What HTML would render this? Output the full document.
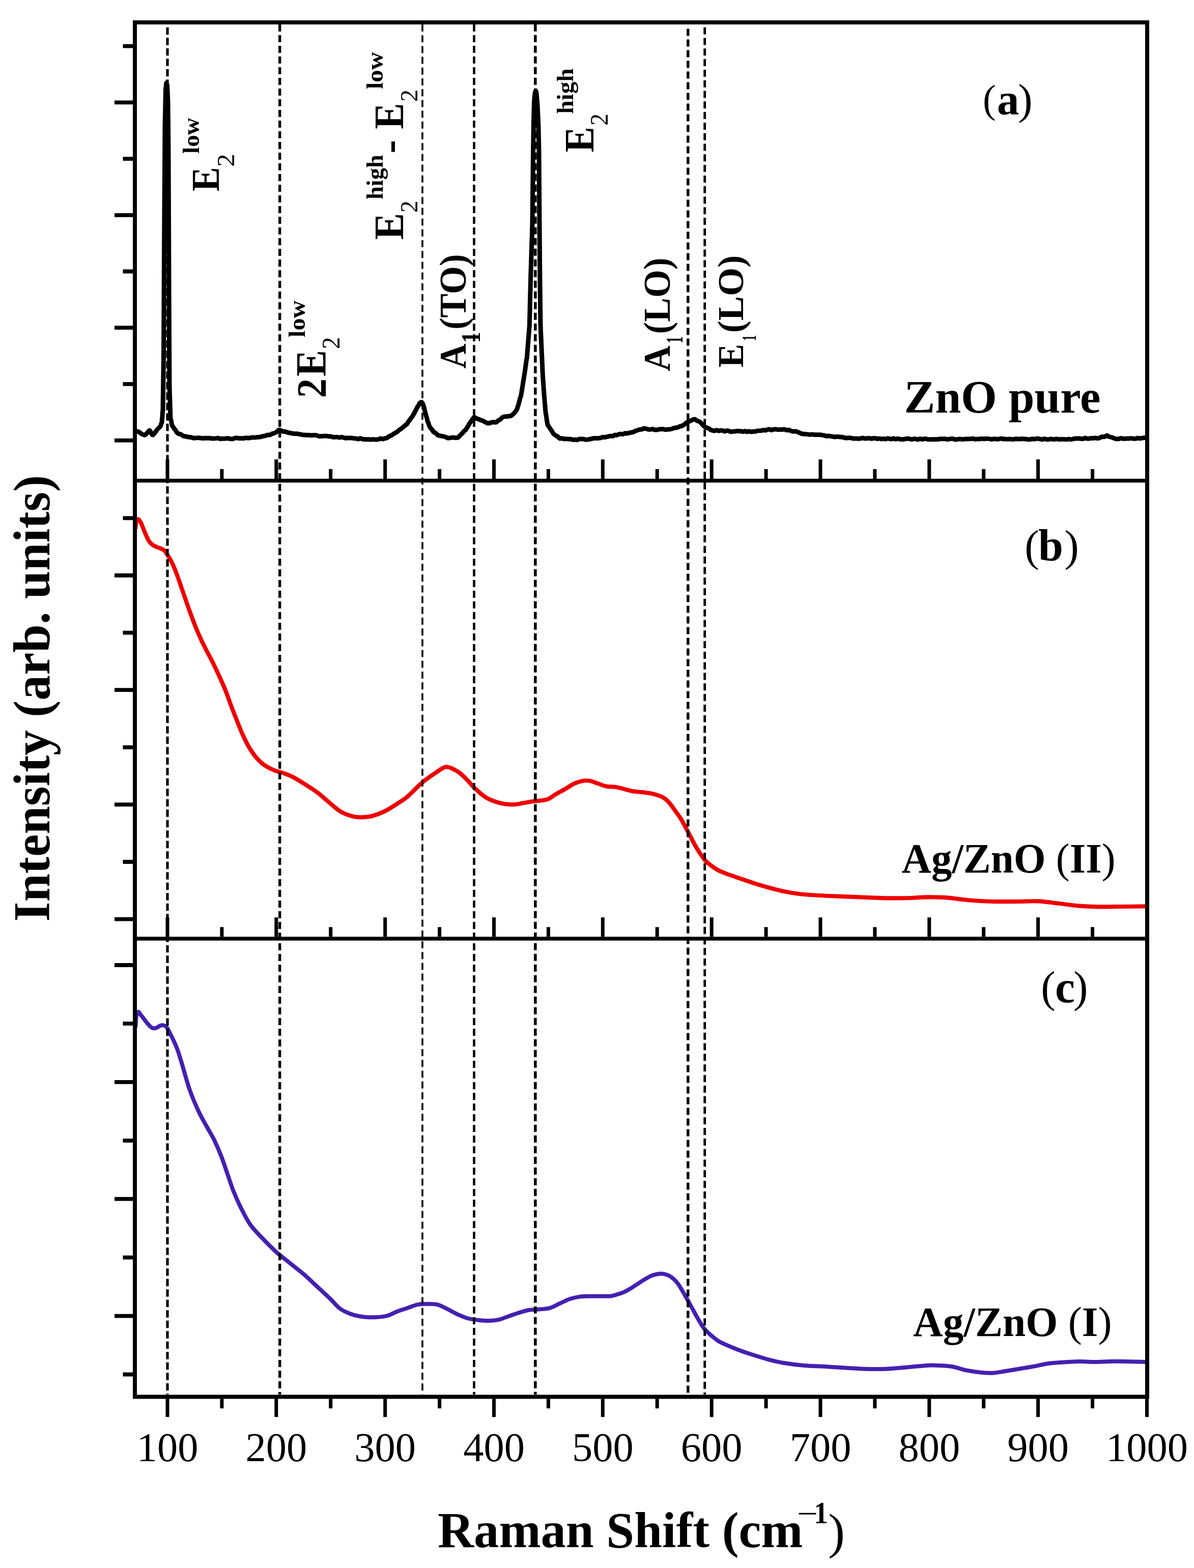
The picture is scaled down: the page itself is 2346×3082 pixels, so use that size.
<!DOCTYPE html>
<html><head><meta charset="utf-8"><title>Raman spectra of ZnO and Ag/ZnO</title>
<style>html,body{margin:0;padding:0;background:#fff;overflow:hidden;} svg{display:block;}</style></head>
<body>
<svg width="2346" height="3082" viewBox="0 0 2346 3082">
<rect width="2346" height="3082" fill="#fff"/>
<defs><clipPath id="pa"><rect x="265" y="44" width="1989" height="900"/></clipPath>
<clipPath id="pb"><rect x="265" y="944" width="1989" height="901"/></clipPath>
<clipPath id="pc"><rect x="265" y="1845" width="1989" height="900"/></clipPath></defs>
<g font-family="'Liberation Serif', 'Times New Roman', serif" fill="#000">
<text transform="translate(430.2,376.2) rotate(-90) scale(0.909,1)" font-size="79.0" font-weight="bold">E</text>
<text transform="translate(459.6,327.7) rotate(-90) scale(1.039,1)" font-size="49.2" font-weight="normal">2</text>
<text transform="translate(391.3,301.9) rotate(-90) scale(1.009,1)" font-size="46.5" font-weight="bold">low</text>
<text transform="translate(639.5,782.3) rotate(-90) scale(0.938,1)" font-size="81.7" font-weight="bold">2</text>
<text transform="translate(640.0,739.8) rotate(-90) scale(0.925,1)" font-size="84.0" font-weight="bold">E</text>
<text transform="translate(667.0,686.1) rotate(-90) scale(0.952,1)" font-size="49.8" font-weight="normal">2</text>
<text transform="translate(599.0,662.9) rotate(-90) scale(1.013,1)" font-size="47.5" font-weight="bold">low</text>
<text transform="translate(791.8,471.3) rotate(-90) scale(0.964,1)" font-size="81.8" font-weight="bold">E</text>
<text transform="translate(819.6,418.1) rotate(-90) scale(0.977,1)" font-size="48.5" font-weight="normal">2</text>
<text transform="translate(752.0,391.9) rotate(-90) scale(1.005,1)" font-size="46.1" font-weight="bold">high</text>
<text transform="translate(792.0,301.5) rotate(-90) scale(0.967,1)" font-size="82.0" font-weight="bold">-</text>
<text transform="translate(792.0,253.8) rotate(-90) scale(0.941,1)" font-size="81.8" font-weight="bold">E</text>
<text transform="translate(820.0,200.0) rotate(-90) scale(0.983,1)" font-size="49.0" font-weight="normal">2</text>
<text transform="translate(752.0,175.3) rotate(-90) scale(1.056,1)" font-size="46.1" font-weight="bold">low</text>
<text transform="translate(914.8,724.5) rotate(-90) scale(0.926,1)" font-size="73.2" font-weight="bold">A</text>
<text transform="translate(942.7,673.9) rotate(-90) scale(0.813,1)" font-size="53.8" font-weight="bold">1</text>
<text transform="translate(914.8,648.1) rotate(-90) scale(0.971,1)" font-size="73.2" font-weight="bold">(TO)</text>
<text transform="translate(1166.0,299.5) rotate(-90) scale(0.923,1)" font-size="81.8" font-weight="bold">E</text>
<text transform="translate(1194.0,246.7) rotate(-90) scale(0.952,1)" font-size="49.8" font-weight="normal">2</text>
<text transform="translate(1125.5,223.8) rotate(-90) scale(1.001,1)" font-size="47.3" font-weight="bold">high</text>
<text transform="translate(1315.8,729.7) rotate(-90) scale(0.947,1)" font-size="74.0" font-weight="bold">A</text>
<text transform="translate(1340.9,674.8) rotate(-90) scale(0.586,1)" font-size="45.4" font-weight="bold">1</text>
<text transform="translate(1316.0,656.4) rotate(-90) scale(0.961,1)" font-size="74.0" font-weight="bold">(LO)</text>
<text transform="translate(1459.8,722.6) rotate(-90) scale(0.970,1)" font-size="72.0" font-weight="bold">E</text>
<text transform="translate(1485.0,669.7) rotate(-90) scale(0.530,1)" font-size="41.0" font-weight="bold">1</text>
<text transform="translate(1460.0,654.2) rotate(-90) scale(1.004,1)" font-size="72.0" font-weight="bold">(LO)</text>
<text x="1931.1" y="220.5" font-size="77.4" font-weight="normal">(</text>
<text x="1959.1" y="224.6" font-size="86.8" font-weight="bold">a</text>
<text x="2000.3" y="224.3" font-size="85.3" font-weight="normal">)</text>
<text x="2013.2" y="1101.7" font-size="85.7" font-weight="normal">(</text>
<text x="2039.9" y="1102.0" font-size="88.0" font-weight="bold">b</text>
<text x="2091.2" y="1101.7" font-size="85.7" font-weight="normal">)</text>
<text x="2045.3" y="1968.5" font-size="85.7" font-weight="normal">(</text>
<text x="2072.9" y="1969.5" font-size="88.0" font-weight="bold">c</text>
<text x="2109.0" y="1968.5" font-size="85.7" font-weight="normal">)</text>
<text transform="translate(1776.6,811.2) scale(1.002,1)" font-size="91.0" font-weight="bold">ZnO pure</text>
<text transform="translate(1771.6,1715.0) scale(0.986,1)" font-size="82.0" font-weight="bold">Ag/ZnO <tspan font-weight="normal">(</tspan>II<tspan font-weight="normal">)</tspan></text>
<text transform="translate(1794.0,2626.2) scale(0.991,1)" font-size="82.0" font-weight="bold">Ag/ZnO <tspan font-weight="normal">(</tspan>I<tspan font-weight="normal">)</tspan></text>
<text x="329.0" y="2871.5" font-size="80.5" text-anchor="middle">100</text>
<text x="542.8" y="2871.5" font-size="80.5" text-anchor="middle">200</text>
<text x="756.7" y="2871.5" font-size="80.5" text-anchor="middle">300</text>
<text x="970.5" y="2871.5" font-size="80.5" text-anchor="middle">400</text>
<text x="1184.3" y="2871.5" font-size="80.5" text-anchor="middle">500</text>
<text x="1398.2" y="2871.5" font-size="80.5" text-anchor="middle">600</text>
<text x="1612.0" y="2871.5" font-size="80.5" text-anchor="middle">700</text>
<text x="1825.8" y="2871.5" font-size="80.5" text-anchor="middle">800</text>
<text x="2039.6" y="2871.5" font-size="80.5" text-anchor="middle">900</text>
<text x="2253.5" y="2871.5" font-size="80.5" text-anchor="middle">1000</text>
<text transform="translate(859.9,3041.0) scale(0.996,1)" font-size="99.0" font-weight="bold">Raman Shift (cm</text>
<text transform="translate(1566.0,2994.5) scale(1.218,1)" font-size="60.0" font-weight="normal">−</text>
<text transform="translate(1599.2,2994.3) scale(0.914,1)" font-size="60.6" font-weight="bold">1</text>
<text x="1627.2" y="3042.5" font-size="98.4" font-weight="normal">)</text>
<text transform="translate(96.7,1811.4) rotate(-90) scale(0.987,1)" font-size="101.0" font-weight="bold">Intensity (arb. units)</text>
</g>
<g clip-path="url(#pa)"><path d="M262.0,848.0 C262.7,848.0 264.7,848.0 266.0,848.0 C267.3,848.0 268.8,847.8 270.0,848.0 C271.2,848.2 272.3,848.7 273.5,849.3 C274.7,850.0 275.8,851.2 277.0,852.0 C278.2,852.8 279.7,853.6 281.0,854.1 C282.3,854.6 283.5,855.7 285.0,855.0 C286.5,854.3 288.5,851.5 290.0,850.0 C291.5,848.5 292.8,845.8 294.0,846.0 C295.2,846.2 296.0,849.5 297.0,851.0 C298.0,852.5 298.7,855.2 300.0,855.0 C301.3,854.8 303.8,851.5 305.0,850.0 C306.2,848.5 306.7,847.2 307.5,846.1 C308.3,844.9 308.8,844.3 310.0,843.0 C311.2,841.7 313.9,839.5 315.0,838.0 C316.1,836.5 316.0,835.3 316.5,834.0 C317.0,832.7 317.7,831.4 318.0,830.0 C318.3,828.6 318.2,827.1 318.3,825.7 C318.4,824.4 318.6,823.2 318.7,821.9 C318.8,820.7 318.9,819.6 319.0,818.0 C319.1,816.5 319.2,814.2 319.3,812.6 C319.4,811.0 319.6,809.6 319.7,808.3 C319.8,807.1 319.9,806.2 320.0,805.0 C320.1,803.8 320.0,802.3 320.1,801.0 C320.1,799.6 320.1,798.3 320.1,796.9 C320.1,795.6 320.2,794.2 320.2,792.9 C320.2,791.5 320.2,790.2 320.2,788.8 C320.2,787.5 320.3,786.2 320.3,784.8 C320.3,783.5 320.3,782.1 320.3,780.8 C320.4,779.4 320.4,778.1 320.4,776.7 C320.4,775.4 320.4,774.0 320.5,772.7 C320.5,771.3 320.5,770.0 320.5,768.7 C320.5,767.3 320.6,766.0 320.6,764.6 C320.6,763.3 320.6,761.9 320.6,760.6 C320.7,759.2 320.7,757.9 320.7,756.5 C320.7,755.2 320.7,753.8 320.8,752.5 C320.8,751.2 320.8,749.8 320.8,748.5 C320.8,747.1 320.8,745.8 320.9,744.4 C320.9,743.1 320.9,741.7 320.9,740.4 C320.9,739.0 321.0,737.7 321.0,736.3 C321.0,735.0 321.0,733.7 321.0,732.3 C321.1,731.0 321.1,729.6 321.1,728.3 C321.1,726.9 321.1,725.6 321.2,724.2 C321.2,722.9 321.2,721.5 321.2,720.2 C321.2,718.8 321.2,717.5 321.3,716.2 C321.3,714.8 321.3,713.5 321.3,712.1 C321.3,710.8 321.4,709.4 321.4,708.1 C321.4,706.7 321.4,705.4 321.4,704.0 C321.5,702.7 321.5,701.3 321.5,700.0 C321.5,698.7 321.5,697.3 321.5,696.0 C321.5,694.7 321.5,693.3 321.5,692.0 C321.5,690.7 321.6,689.3 321.6,688.0 C321.6,686.7 321.6,685.3 321.6,684.0 C321.6,682.7 321.6,681.3 321.6,680.0 C321.6,678.7 321.6,677.3 321.6,676.0 C321.6,674.7 321.6,673.3 321.6,672.0 C321.6,670.7 321.7,669.3 321.7,668.0 C321.7,666.7 321.7,665.3 321.7,664.0 C321.7,662.7 321.7,661.3 321.7,660.0 C321.7,658.7 321.7,657.3 321.7,656.0 C321.7,654.7 321.7,653.3 321.7,652.0 C321.7,650.7 321.8,649.3 321.8,648.0 C321.8,646.7 321.8,645.3 321.8,644.0 C321.8,642.7 321.8,641.3 321.8,640.0 C321.8,638.7 321.8,637.3 321.8,636.0 C321.8,634.7 321.8,633.3 321.8,632.0 C321.8,630.7 321.9,629.3 321.9,628.0 C321.9,626.7 321.9,625.3 321.9,624.0 C321.9,622.7 321.9,621.3 321.9,620.0 C321.9,618.7 321.9,617.3 321.9,616.0 C321.9,614.7 321.9,613.3 321.9,612.0 C321.9,610.7 322.0,609.3 322.0,608.0 C322.0,606.7 322.0,605.3 322.0,604.0 C322.0,602.7 322.0,601.3 322.0,600.0 C322.0,598.7 322.0,597.3 322.0,596.0 C322.0,594.7 322.0,593.3 322.0,592.0 C322.0,590.7 322.1,589.3 322.1,588.0 C322.1,586.7 322.1,585.3 322.1,584.0 C322.1,582.7 322.1,581.3 322.1,580.0 C322.1,578.7 322.1,577.3 322.1,576.0 C322.1,574.7 322.1,573.3 322.1,572.0 C322.1,570.7 322.2,569.3 322.2,568.0 C322.2,566.7 322.2,565.3 322.2,564.0 C322.2,562.7 322.2,561.3 322.2,560.0 C322.2,558.7 322.2,557.3 322.2,556.0 C322.2,554.7 322.2,553.3 322.2,552.0 C322.2,550.7 322.3,549.3 322.3,548.0 C322.3,546.7 322.3,545.3 322.3,544.0 C322.3,542.7 322.3,541.3 322.3,540.0 C322.3,538.7 322.3,537.3 322.3,536.0 C322.3,534.7 322.3,533.3 322.3,532.0 C322.3,530.7 322.4,529.3 322.4,528.0 C322.4,526.7 322.4,525.3 322.4,524.0 C322.4,522.7 322.4,521.3 322.4,520.0 C322.4,518.7 322.4,517.3 322.4,516.0 C322.4,514.7 322.4,513.3 322.4,512.0 C322.4,510.7 322.5,509.3 322.5,508.0 C322.5,506.7 322.5,505.3 322.5,504.0 C322.5,502.7 322.5,501.3 322.5,500.0 C322.5,498.7 322.5,497.3 322.5,496.0 C322.5,494.6 322.5,493.3 322.5,491.9 C322.6,490.6 322.6,489.2 322.6,487.9 C322.6,486.6 322.6,485.2 322.6,483.9 C322.6,482.5 322.6,481.2 322.6,479.8 C322.6,478.5 322.6,477.2 322.6,475.8 C322.7,474.5 322.7,473.1 322.7,471.8 C322.7,470.4 322.7,469.1 322.7,467.7 C322.7,466.4 322.7,465.1 322.7,463.7 C322.7,462.4 322.7,461.0 322.7,459.7 C322.8,458.3 322.8,457.0 322.8,455.6 C322.8,454.3 322.8,453.0 322.8,451.6 C322.8,450.3 322.8,448.9 322.8,447.6 C322.8,446.2 322.8,444.9 322.8,443.5 C322.8,442.2 322.9,440.9 322.9,439.5 C322.9,438.2 322.9,436.8 322.9,435.5 C322.9,434.1 322.9,432.8 322.9,431.5 C322.9,430.1 322.9,428.8 322.9,427.4 C322.9,426.1 323.0,424.7 323.0,423.4 C323.0,422.0 323.0,420.7 323.0,419.4 C323.0,418.0 323.0,416.7 323.0,415.3 C323.0,414.0 323.0,412.6 323.0,411.3 C323.0,409.9 323.0,408.6 323.1,407.3 C323.1,405.9 323.1,404.6 323.1,403.2 C323.1,401.9 323.1,400.5 323.1,399.2 C323.1,397.8 323.1,396.5 323.1,395.2 C323.1,393.8 323.1,392.5 323.2,391.1 C323.2,389.8 323.2,388.4 323.2,387.1 C323.2,385.8 323.2,384.4 323.2,383.1 C323.2,381.7 323.2,380.4 323.2,379.0 C323.2,377.7 323.2,376.3 323.2,375.0 C323.3,373.7 323.3,372.3 323.3,371.0 C323.3,369.6 323.3,368.3 323.3,366.9 C323.3,365.6 323.3,364.2 323.3,362.9 C323.3,361.6 323.3,360.2 323.3,358.9 C323.4,357.5 323.4,356.2 323.4,354.8 C323.4,353.5 323.4,352.2 323.4,350.8 C323.4,349.5 323.4,348.1 323.4,346.8 C323.4,345.4 323.4,344.1 323.4,342.7 C323.5,341.4 323.5,340.1 323.5,338.7 C323.5,337.4 323.5,336.0 323.5,334.7 C323.5,333.3 323.5,332.0 323.5,330.6 C323.5,329.3 323.5,328.0 323.5,326.6 C323.5,325.3 323.6,323.9 323.6,322.6 C323.6,321.2 323.6,319.9 323.6,318.5 C323.6,317.2 323.6,315.9 323.6,314.5 C323.6,313.2 323.6,311.8 323.6,310.5 C323.6,309.1 323.7,307.8 323.7,306.5 C323.7,305.1 323.7,303.8 323.7,302.4 C323.7,301.1 323.7,299.7 323.7,298.4 C323.7,297.0 323.7,295.7 323.7,294.4 C323.7,293.0 323.8,291.7 323.8,290.3 C323.8,289.0 323.8,287.6 323.8,286.3 C323.8,284.9 323.8,283.6 323.8,282.3 C323.8,280.9 323.8,279.6 323.8,278.2 C323.8,276.9 323.8,275.5 323.9,274.2 C323.9,272.8 323.9,271.5 323.9,270.2 C323.9,268.8 323.9,267.5 323.9,266.1 C323.9,264.8 323.9,263.4 323.9,262.1 C323.9,260.8 323.9,259.4 324.0,258.1 C324.0,256.7 324.0,255.4 324.0,254.0 C324.0,252.7 324.0,251.4 324.0,250.0 C324.0,248.6 324.1,247.2 324.1,245.8 C324.1,244.4 324.1,243.1 324.2,241.7 C324.2,240.3 324.2,238.9 324.2,237.5 C324.3,236.1 324.3,234.7 324.3,233.3 C324.4,231.9 324.4,230.6 324.4,229.2 C324.4,227.8 324.5,226.4 324.5,225.0 C324.5,223.6 324.6,222.2 324.6,220.8 C324.6,219.4 324.6,218.1 324.7,216.7 C324.7,215.3 324.7,213.9 324.8,212.5 C324.8,211.1 324.8,209.7 324.8,208.3 C324.9,206.9 324.9,205.6 324.9,204.2 C324.9,202.8 325.0,201.4 325.0,200.0 C325.0,198.6 325.1,197.2 325.1,195.8 C325.1,194.4 325.1,193.1 325.2,191.7 C325.2,190.3 325.2,188.9 325.2,187.5 C325.3,186.1 325.3,184.7 325.3,183.3 C325.4,181.9 325.4,180.6 325.4,179.2 C325.4,177.8 325.4,176.3 325.5,175.0 C325.6,173.7 325.8,173.0 326.0,171.6 C326.2,170.3 326.3,168.3 326.5,166.9 C326.7,165.4 326.7,162.8 327.0,163.0 C327.3,163.2 328.2,166.4 328.5,168.0 C328.8,169.6 328.6,171.3 328.7,172.5 C328.8,173.7 328.8,173.9 328.9,175.1 C328.9,176.3 329.0,178.4 329.1,179.9 C329.1,181.5 329.2,183.1 329.2,184.4 C329.3,185.7 329.4,186.1 329.4,187.5 C329.5,188.9 329.6,191.3 329.6,192.8 C329.7,194.3 329.8,195.5 329.8,196.7 C329.9,197.9 330.0,198.8 330.0,200.0 C330.0,201.2 330.0,202.7 330.0,204.0 C330.1,205.3 330.1,206.7 330.1,208.0 C330.1,209.3 330.1,210.7 330.1,212.0 C330.1,213.3 330.1,214.7 330.2,216.0 C330.2,217.3 330.2,218.7 330.2,220.0 C330.2,221.3 330.2,222.7 330.2,224.0 C330.3,225.3 330.3,226.7 330.3,228.0 C330.3,229.3 330.3,230.7 330.3,232.0 C330.3,233.3 330.3,234.7 330.4,236.0 C330.4,237.3 330.4,238.7 330.4,240.0 C330.4,241.3 330.4,242.7 330.4,244.0 C330.5,245.3 330.5,246.7 330.5,248.0 C330.5,249.3 330.5,250.7 330.5,252.0 C330.5,253.3 330.5,254.7 330.6,256.0 C330.6,257.3 330.6,258.7 330.6,260.0 C330.6,261.3 330.6,262.7 330.6,264.0 C330.7,265.3 330.7,266.7 330.7,268.0 C330.7,269.3 330.7,270.7 330.7,272.0 C330.7,273.3 330.7,274.7 330.8,276.0 C330.8,277.3 330.8,278.7 330.8,280.0 C330.8,281.3 330.8,282.7 330.8,284.0 C330.9,285.3 330.9,286.7 330.9,288.0 C330.9,289.3 330.9,290.7 330.9,292.0 C330.9,293.3 330.9,294.7 331.0,296.0 C331.0,297.3 331.0,298.7 331.0,300.0 C331.0,301.3 331.0,302.7 331.0,304.0 C331.0,305.3 331.0,306.7 331.0,308.0 C331.0,309.3 331.0,310.7 331.0,312.0 C331.1,313.3 331.1,314.7 331.1,316.0 C331.1,317.3 331.1,318.7 331.1,320.0 C331.1,321.3 331.1,322.7 331.1,324.0 C331.1,325.3 331.1,326.7 331.1,328.0 C331.1,329.3 331.1,330.7 331.1,332.0 C331.1,333.3 331.1,334.7 331.1,336.0 C331.1,337.3 331.1,338.7 331.2,340.0 C331.2,341.3 331.2,342.7 331.2,344.0 C331.2,345.3 331.2,346.7 331.2,348.0 C331.2,349.3 331.2,350.7 331.2,352.0 C331.2,353.3 331.2,354.7 331.2,356.0 C331.2,357.3 331.2,358.7 331.2,360.0 C331.2,361.3 331.2,362.7 331.2,364.0 C331.3,365.3 331.3,366.7 331.3,368.0 C331.3,369.3 331.3,370.7 331.3,372.0 C331.3,373.3 331.3,374.7 331.3,376.0 C331.3,377.3 331.3,378.7 331.3,380.0 C331.3,381.3 331.3,382.7 331.3,384.0 C331.3,385.3 331.3,386.7 331.3,388.0 C331.3,389.3 331.3,390.7 331.4,392.0 C331.4,393.3 331.4,394.7 331.4,396.0 C331.4,397.3 331.4,398.7 331.4,400.0 C331.4,401.3 331.4,402.7 331.4,404.0 C331.4,405.3 331.4,406.7 331.4,408.0 C331.4,409.3 331.4,410.7 331.4,412.0 C331.4,413.3 331.4,414.7 331.4,416.0 C331.5,417.3 331.5,418.7 331.5,420.0 C331.5,421.3 331.5,422.7 331.5,424.0 C331.5,425.3 331.5,426.7 331.5,428.0 C331.5,429.3 331.5,430.7 331.5,432.0 C331.5,433.3 331.5,434.7 331.5,436.0 C331.5,437.3 331.5,438.7 331.5,440.0 C331.5,441.3 331.5,442.7 331.6,444.0 C331.6,445.3 331.6,446.7 331.6,448.0 C331.6,449.3 331.6,450.7 331.6,452.0 C331.6,453.3 331.6,454.7 331.6,456.0 C331.6,457.3 331.6,458.7 331.6,460.0 C331.6,461.3 331.6,462.7 331.6,464.0 C331.6,465.3 331.6,466.7 331.6,468.0 C331.7,469.3 331.7,470.7 331.7,472.0 C331.7,473.3 331.7,474.7 331.7,476.0 C331.7,477.3 331.7,478.7 331.7,480.0 C331.7,481.3 331.7,482.7 331.7,484.0 C331.7,485.3 331.7,486.7 331.7,488.0 C331.7,489.3 331.7,490.7 331.7,492.0 C331.7,493.3 331.7,494.7 331.8,496.0 C331.8,497.3 331.8,498.7 331.8,500.0 C331.8,501.3 331.8,502.7 331.8,504.0 C331.8,505.3 331.8,506.7 331.8,508.0 C331.8,509.3 331.8,510.7 331.8,512.0 C331.8,513.3 331.8,514.7 331.8,516.0 C331.8,517.3 331.8,518.7 331.8,520.0 C331.9,521.3 331.9,522.7 331.9,524.0 C331.9,525.3 331.9,526.7 331.9,528.0 C331.9,529.3 331.9,530.7 331.9,532.0 C331.9,533.3 331.9,534.7 331.9,536.0 C331.9,537.3 331.9,538.7 331.9,540.0 C331.9,541.3 331.9,542.7 331.9,544.0 C331.9,545.3 331.9,546.7 332.0,548.0 C332.0,549.3 332.0,550.7 332.0,552.0 C332.0,553.3 332.0,554.7 332.0,556.0 C332.0,557.3 332.0,558.7 332.0,560.0 C332.0,561.3 332.0,562.7 332.0,564.0 C332.0,565.3 332.0,566.7 332.0,568.0 C332.0,569.3 332.1,570.7 332.1,572.0 C332.1,573.3 332.1,574.7 332.1,576.0 C332.1,577.3 332.1,578.7 332.1,580.0 C332.1,581.3 332.1,582.7 332.1,584.0 C332.1,585.3 332.1,586.7 332.1,588.0 C332.1,589.3 332.2,590.7 332.2,592.0 C332.2,593.3 332.2,594.7 332.2,596.0 C332.2,597.3 332.2,598.7 332.2,600.0 C332.2,601.3 332.2,602.7 332.2,604.0 C332.2,605.3 332.2,606.7 332.2,608.0 C332.2,609.3 332.3,610.7 332.3,612.0 C332.3,613.3 332.3,614.7 332.3,616.0 C332.3,617.3 332.3,618.7 332.3,620.0 C332.3,621.3 332.3,622.7 332.3,624.0 C332.3,625.3 332.3,626.7 332.3,628.0 C332.3,629.3 332.4,630.7 332.4,632.0 C332.4,633.3 332.4,634.7 332.4,636.0 C332.4,637.3 332.4,638.7 332.4,640.0 C332.4,641.3 332.4,642.7 332.4,644.0 C332.4,645.3 332.4,646.7 332.4,648.0 C332.4,649.3 332.5,650.7 332.5,652.0 C332.5,653.3 332.5,654.7 332.5,656.0 C332.5,657.3 332.5,658.7 332.5,660.0 C332.5,661.3 332.5,662.7 332.5,664.0 C332.5,665.3 332.5,666.7 332.5,668.0 C332.5,669.3 332.6,670.7 332.6,672.0 C332.6,673.3 332.6,674.7 332.6,676.0 C332.6,677.3 332.6,678.7 332.6,680.0 C332.6,681.3 332.6,682.7 332.6,684.0 C332.6,685.3 332.6,686.7 332.6,688.0 C332.6,689.3 332.7,690.7 332.7,692.0 C332.7,693.3 332.7,694.7 332.7,696.0 C332.7,697.3 332.7,698.7 332.7,700.0 C332.7,701.3 332.7,702.7 332.7,704.0 C332.7,705.3 332.7,706.7 332.7,708.0 C332.7,709.3 332.8,710.7 332.8,712.0 C332.8,713.3 332.8,714.7 332.8,716.0 C332.8,717.3 332.8,718.7 332.8,720.0 C332.8,721.3 332.8,722.7 332.8,724.0 C332.8,725.3 332.8,726.7 332.8,728.0 C332.8,729.3 332.9,730.7 332.9,732.0 C332.9,733.3 332.9,734.7 332.9,736.0 C332.9,737.3 332.9,738.7 332.9,740.0 C332.9,741.3 332.9,742.7 332.9,744.0 C332.9,745.3 332.9,746.7 332.9,748.0 C332.9,749.3 333.0,750.7 333.0,752.0 C333.0,753.3 333.0,754.7 333.0,756.0 C333.0,757.3 333.0,758.6 333.0,760.0 C333.0,761.4 333.1,762.8 333.1,764.1 C333.2,765.5 333.2,766.9 333.3,768.3 C333.3,769.6 333.4,771.0 333.4,772.4 C333.4,773.8 333.5,775.2 333.5,776.5 C333.6,777.9 333.6,779.3 333.7,780.7 C333.7,782.0 333.8,783.4 333.8,784.8 C333.8,786.2 333.9,787.6 333.9,788.9 C334.0,790.3 334.0,791.7 334.1,793.1 C334.1,794.4 334.2,795.8 334.2,797.2 C334.2,798.6 334.3,800.0 334.3,801.3 C334.4,802.7 334.4,804.1 334.5,805.5 C334.5,806.8 334.6,808.2 334.6,809.6 C334.6,811.0 334.7,812.4 334.7,813.7 C334.8,815.1 334.8,816.5 334.9,817.9 C334.9,819.2 334.8,820.7 335.0,822.0 C335.2,823.3 335.7,824.4 336.0,825.8 C336.3,827.2 336.7,828.8 337.0,830.5 C337.3,832.2 337.2,834.1 338.0,836.0 C338.8,837.9 340.9,840.4 342.0,842.0 C343.1,843.6 343.8,844.2 344.7,845.4 C345.6,846.7 346.4,848.4 347.3,849.5 C348.2,850.6 348.6,851.2 350.0,852.0 C351.4,852.8 354.3,853.2 356.0,854.0 C357.7,854.8 358.5,856.4 360.0,857.0 C361.5,857.6 363.3,857.5 365.0,857.8 C366.7,858.1 368.3,858.7 370.0,859.0 C371.7,859.3 373.3,859.2 375.0,859.5 C376.7,859.8 378.5,860.8 380.0,861.0 C381.5,861.2 382.7,861.1 384.0,861.0 C385.3,860.9 386.7,860.4 388.0,860.4 C389.3,860.3 390.7,860.6 392.0,860.8 C393.3,861.0 394.7,861.2 396.0,861.3 C397.3,861.4 398.7,861.5 400.0,861.5 C401.3,861.5 402.7,861.2 404.0,861.1 C405.3,861.1 406.7,861.2 408.0,861.2 C409.3,861.2 410.7,861.2 412.0,861.3 C413.3,861.4 414.7,861.7 416.0,861.8 C417.3,861.9 418.6,862.0 420.0,862.0 C421.4,862.0 422.9,861.8 424.3,861.6 C425.7,861.5 427.1,861.0 428.6,861.1 C430.0,861.3 431.4,862.4 432.9,862.6 C434.3,862.8 435.7,862.2 437.1,862.1 C438.6,862.0 440.0,862.4 441.4,862.3 C442.9,862.1 444.3,861.5 445.7,861.4 C447.1,861.4 448.6,861.8 450.0,862.0 C451.4,862.2 452.8,862.7 454.2,862.7 C455.6,862.8 456.9,862.6 458.3,862.3 C459.7,862.0 461.1,861.0 462.5,860.8 C463.9,860.6 465.3,860.9 466.7,861.0 C468.1,861.2 469.4,861.5 470.8,861.6 C472.2,861.6 473.6,861.4 475.0,861.4 C476.4,861.4 477.8,861.8 479.2,861.6 C480.6,861.5 481.9,860.6 483.3,860.5 C484.7,860.4 486.1,861.1 487.5,861.1 C488.9,861.1 490.3,860.9 491.7,860.6 C493.1,860.4 494.4,859.9 495.8,859.8 C497.2,859.7 498.6,860.1 500.0,860.0 C501.4,859.9 502.9,859.6 504.3,859.4 C505.7,859.3 507.1,859.4 508.6,859.3 C510.0,859.1 511.4,858.8 512.9,858.5 C514.3,858.1 515.7,857.5 517.1,857.2 C518.6,856.8 520.0,857.0 521.4,856.6 C522.9,856.2 524.3,855.1 525.7,854.9 C527.1,854.6 528.5,855.4 530.0,855.0 C531.5,854.6 533.3,853.2 535.0,852.5 C536.7,851.9 538.5,851.7 540.0,851.0 C541.5,850.3 542.7,849.5 544.0,848.5 C545.3,847.5 546.7,845.4 548.0,845.0 C549.3,844.6 550.7,845.8 552.0,846.3 C553.3,846.8 554.6,847.7 556.0,848.0 C557.4,848.3 559.1,848.1 560.7,848.4 C562.2,848.8 563.8,849.7 565.3,850.1 C566.9,850.5 568.5,850.7 570.0,851.0 C571.5,851.3 572.9,851.7 574.3,851.9 C575.7,852.2 577.1,852.4 578.6,852.5 C580.0,852.5 581.4,852.4 582.9,852.5 C584.3,852.6 585.7,852.9 587.1,853.2 C588.6,853.4 590.0,853.6 591.4,853.9 C592.9,854.2 594.3,854.7 595.7,854.9 C597.1,855.1 598.6,854.9 600.0,855.0 C601.4,855.1 602.8,855.2 604.2,855.3 C605.6,855.3 606.9,855.2 608.3,855.3 C609.7,855.4 611.1,855.8 612.5,855.7 C613.9,855.7 615.3,855.2 616.7,855.2 C618.1,855.1 619.4,855.1 620.8,855.4 C622.2,855.7 623.6,856.5 625.0,856.9 C626.4,857.2 627.8,857.6 629.2,857.6 C630.6,857.7 631.9,857.3 633.3,857.2 C634.7,857.1 636.1,857.1 637.5,857.1 C638.9,857.0 640.3,856.8 641.7,856.9 C643.1,857.0 644.4,857.6 645.8,857.8 C647.2,857.9 648.6,857.8 650.0,858.0 C651.4,858.2 652.8,859.0 654.2,859.2 C655.6,859.4 656.9,859.2 658.3,859.2 C659.7,859.1 661.1,858.9 662.5,859.1 C663.9,859.2 665.3,860.0 666.7,860.0 C668.1,860.0 669.4,859.2 670.8,859.2 C672.2,859.2 673.6,859.7 675.0,860.0 C676.4,860.4 677.8,861.0 679.2,861.1 C680.6,861.3 681.9,860.8 683.3,860.8 C684.7,860.8 686.1,860.9 687.5,860.9 C688.9,860.9 690.3,860.8 691.7,860.9 C693.1,861.1 694.4,861.6 695.8,861.8 C697.2,861.9 698.6,861.8 700.0,862.0 C701.4,862.2 702.7,863.1 704.0,863.0 C705.3,862.9 706.7,861.5 708.0,861.5 C709.3,861.5 710.7,862.8 712.0,863.1 C713.3,863.4 714.7,863.3 716.0,863.4 C717.3,863.5 718.7,863.7 720.0,863.7 C721.3,863.7 722.7,863.6 724.0,863.6 C725.3,863.7 726.7,864.0 728.0,864.0 C729.3,864.0 730.7,863.6 732.0,863.6 C733.3,863.6 734.7,863.8 736.0,863.9 C737.3,864.0 738.7,864.1 740.0,864.0 C741.3,863.9 742.7,863.6 744.0,863.3 C745.3,862.9 746.7,862.1 748.0,862.0 C749.3,861.9 750.7,862.9 752.0,862.9 C753.3,862.8 754.7,862.0 756.0,861.7 C757.3,861.4 758.7,861.6 760.0,861.0 C761.3,860.4 762.7,858.9 764.0,858.1 C765.3,857.3 766.7,856.9 768.0,856.2 C769.3,855.5 770.7,854.6 772.0,853.8 C773.3,852.9 774.7,851.9 776.0,851.1 C777.3,850.3 778.8,849.8 780.0,849.0 C781.2,848.2 782.2,846.9 783.3,846.1 C784.4,845.2 785.6,844.5 786.7,843.7 C787.8,842.9 788.9,842.1 790.0,841.2 C791.1,840.4 792.2,839.5 793.3,838.5 C794.4,837.6 795.6,836.5 796.7,835.6 C797.8,834.7 799.0,834.2 800.0,833.0 C801.0,831.8 801.7,829.9 802.5,828.7 C803.3,827.4 804.2,826.6 805.0,825.5 C805.8,824.4 806.7,823.0 807.5,821.9 C808.3,820.8 809.2,820.1 810.0,819.0 C810.8,817.9 811.3,816.5 812.0,815.4 C812.7,814.2 813.3,813.3 814.0,812.0 C814.7,810.8 815.3,809.4 816.0,808.1 C816.7,806.9 817.3,805.7 818.0,804.3 C818.7,803.0 819.2,801.3 820.0,800.0 C820.8,798.7 821.7,797.9 822.5,796.6 C823.3,795.2 823.9,792.9 825.0,792.0 C826.1,791.1 827.8,790.2 829.0,791.0 C830.2,791.8 831.3,795.2 832.0,797.0 C832.7,798.8 832.9,799.8 833.3,801.6 C833.8,803.3 834.2,805.9 834.7,807.6 C835.1,809.4 835.6,810.6 836.0,812.0 C836.4,813.4 836.7,815.1 837.0,816.3 C837.3,817.5 837.7,818.1 838.0,819.2 C838.3,820.4 838.7,821.7 839.0,823.1 C839.3,824.6 839.6,826.7 840.0,828.0 C840.4,829.3 841.1,829.7 841.7,831.1 C842.2,832.5 842.8,835.0 843.3,836.5 C843.9,837.9 844.1,838.7 845.0,840.0 C845.9,841.3 847.3,842.5 848.5,844.0 C849.7,845.5 850.8,847.8 852.0,849.0 C853.2,850.2 854.7,850.3 856.0,851.3 C857.3,852.3 858.7,854.1 860.0,855.0 C861.3,855.9 862.7,856.1 864.0,856.4 C865.3,856.8 866.7,856.9 868.0,857.1 C869.3,857.4 870.7,857.5 872.0,857.8 C873.3,858.2 874.7,858.7 876.0,859.2 C877.3,859.7 878.7,860.7 880.0,861.0 C881.3,861.3 882.7,861.0 884.0,860.8 C885.3,860.7 886.7,860.1 888.0,860.0 C889.3,859.9 890.7,859.9 892.0,860.0 C893.3,860.1 894.7,860.6 896.0,860.6 C897.3,860.6 898.8,860.6 900.0,860.0 C901.2,859.4 902.0,858.0 903.0,856.9 C904.0,855.9 905.0,854.7 906.0,853.7 C907.0,852.7 908.0,852.0 909.0,851.0 C910.0,849.9 911.0,848.1 912.0,847.1 C913.0,846.2 914.1,846.1 915.0,845.0 C915.9,843.9 916.7,842.2 917.5,840.8 C918.3,839.4 919.2,838.3 920.0,836.9 C920.8,835.5 921.7,833.7 922.5,832.4 C923.3,831.1 924.0,830.4 925.0,829.0 C926.0,827.6 927.3,825.3 928.5,823.8 C929.7,822.3 930.7,820.2 932.0,820.0 C933.3,819.8 934.9,822.0 936.3,822.7 C937.8,823.4 939.2,823.5 940.7,824.0 C942.1,824.6 943.7,825.5 945.0,826.0 C946.3,826.5 947.5,826.4 948.8,827.0 C950.0,827.5 951.2,828.5 952.5,829.2 C953.8,829.9 955.0,830.6 956.2,831.1 C957.5,831.5 958.5,832.1 960.0,832.0 C961.5,831.9 963.3,830.8 965.0,830.5 C966.7,830.1 968.3,829.9 970.0,829.8 C971.7,829.7 973.5,830.5 975.0,830.0 C976.5,829.5 977.5,827.5 978.8,826.6 C980.0,825.8 981.2,825.8 982.5,824.9 C983.8,824.0 985.0,822.1 986.2,821.1 C987.5,820.2 988.5,819.4 990.0,819.0 C991.5,818.6 993.3,818.9 995.0,818.7 C996.7,818.5 998.3,818.3 1000.0,818.0 C1001.7,817.7 1003.6,817.7 1005.0,817.0 C1006.4,816.3 1007.3,814.7 1008.5,813.6 C1009.7,812.4 1010.8,811.6 1012.0,810.0 C1013.2,808.4 1015.1,805.8 1016.0,804.0 C1016.9,802.2 1016.8,800.7 1017.1,799.5 C1017.5,798.3 1017.9,798.0 1018.3,796.9 C1018.7,795.7 1019.0,794.0 1019.4,792.5 C1019.8,791.1 1020.2,789.5 1020.6,788.0 C1021.0,786.5 1021.3,784.8 1021.7,783.5 C1022.1,782.2 1022.5,781.5 1022.9,780.3 C1023.2,779.0 1023.7,777.4 1024.0,776.0 C1024.3,774.6 1024.4,773.3 1024.6,772.0 C1024.8,770.7 1025.1,769.3 1025.3,768.0 C1025.5,766.7 1025.7,765.3 1025.9,764.0 C1026.1,762.7 1026.3,761.3 1026.5,760.0 C1026.8,758.7 1027.0,757.3 1027.2,756.0 C1027.4,754.7 1027.6,753.3 1027.8,752.0 C1028.0,750.7 1028.2,749.3 1028.5,748.0 C1028.7,746.7 1028.9,745.3 1029.1,744.0 C1029.3,742.7 1029.5,741.3 1029.7,740.0 C1029.9,738.7 1030.2,737.3 1030.4,736.0 C1030.6,734.7 1030.8,733.4 1031.0,732.0 C1031.2,730.6 1031.4,729.1 1031.6,727.8 C1031.8,726.5 1032.0,725.5 1032.2,724.1 C1032.3,722.8 1032.5,721.0 1032.7,719.7 C1032.9,718.4 1033.1,717.6 1033.3,716.2 C1033.5,714.8 1033.7,712.6 1033.9,711.2 C1034.1,709.8 1034.3,708.7 1034.4,707.6 C1034.6,706.6 1034.8,706.1 1035.0,704.8 C1035.2,703.6 1035.5,701.5 1035.6,700.0 C1035.7,698.5 1035.8,697.3 1035.9,696.0 C1036.0,694.7 1036.1,693.3 1036.2,692.0 C1036.3,690.7 1036.4,689.3 1036.5,688.0 C1036.6,686.7 1036.7,685.3 1036.9,684.0 C1037.0,682.7 1037.1,681.3 1037.2,680.0 C1037.3,678.7 1037.4,677.3 1037.5,676.0 C1037.6,674.7 1037.7,673.3 1037.8,672.0 C1037.9,670.7 1038.0,669.3 1038.1,668.0 C1038.2,666.7 1038.3,665.3 1038.4,664.0 C1038.5,662.7 1038.6,661.3 1038.7,660.0 C1038.8,658.7 1038.9,657.3 1039.0,656.0 C1039.2,654.7 1039.3,653.3 1039.4,652.0 C1039.5,650.7 1039.6,649.3 1039.7,648.0 C1039.8,646.7 1039.9,645.3 1040.0,644.0 C1040.1,642.7 1040.2,641.3 1040.3,640.0 C1040.4,638.7 1040.4,637.3 1040.4,636.0 C1040.4,634.7 1040.5,633.3 1040.5,632.0 C1040.5,630.7 1040.6,629.3 1040.6,628.0 C1040.6,626.7 1040.7,625.3 1040.7,624.0 C1040.7,622.7 1040.8,621.3 1040.8,620.0 C1040.8,618.7 1040.9,617.3 1040.9,616.0 C1040.9,614.7 1041.0,613.3 1041.0,612.0 C1041.0,610.7 1041.1,609.3 1041.1,608.0 C1041.1,606.7 1041.2,605.3 1041.2,604.0 C1041.2,602.7 1041.3,601.3 1041.3,600.0 C1041.3,598.7 1041.4,597.3 1041.4,596.0 C1041.4,594.7 1041.5,593.3 1041.5,592.0 C1041.5,590.7 1041.6,589.3 1041.6,588.0 C1041.6,586.7 1041.7,585.3 1041.7,584.0 C1041.7,582.7 1041.8,581.3 1041.8,580.0 C1041.8,578.7 1041.9,577.3 1041.9,576.0 C1041.9,574.7 1042.0,573.3 1042.0,572.0 C1042.0,570.7 1042.1,569.3 1042.1,568.0 C1042.1,566.7 1042.2,565.3 1042.2,564.0 C1042.2,562.7 1042.3,561.3 1042.3,560.0 C1042.3,558.7 1042.4,557.3 1042.4,556.0 C1042.4,554.7 1042.5,553.3 1042.5,552.0 C1042.5,550.7 1042.6,549.3 1042.6,548.0 C1042.6,546.7 1042.7,545.3 1042.7,544.0 C1042.7,542.7 1042.8,541.3 1042.8,540.0 C1042.8,538.7 1042.9,537.3 1042.9,536.0 C1043.0,534.7 1043.0,533.3 1043.1,532.0 C1043.1,530.7 1043.1,529.3 1043.2,528.0 C1043.2,526.7 1043.3,525.3 1043.3,524.0 C1043.4,522.7 1043.4,521.3 1043.4,520.0 C1043.5,518.7 1043.5,517.3 1043.6,516.0 C1043.6,514.7 1043.7,513.3 1043.7,512.0 C1043.7,510.7 1043.8,509.3 1043.8,508.0 C1043.9,506.7 1043.9,505.3 1044.0,504.0 C1044.0,502.7 1044.0,501.3 1044.1,500.0 C1044.1,498.7 1044.2,497.3 1044.2,496.0 C1044.3,494.7 1044.3,493.3 1044.3,492.0 C1044.4,490.7 1044.4,489.3 1044.5,488.0 C1044.5,486.7 1044.5,485.3 1044.6,484.0 C1044.6,482.7 1044.7,481.3 1044.7,480.0 C1044.8,478.7 1044.8,477.3 1044.8,476.0 C1044.9,474.7 1044.9,473.3 1045.0,472.0 C1045.0,470.7 1045.1,469.3 1045.1,468.0 C1045.1,466.7 1045.2,465.3 1045.2,464.0 C1045.3,462.7 1045.3,461.3 1045.4,460.0 C1045.4,458.7 1045.4,457.3 1045.5,456.0 C1045.5,454.7 1045.6,453.3 1045.6,452.0 C1045.7,450.7 1045.7,449.3 1045.7,448.0 C1045.8,446.7 1045.8,445.3 1045.9,444.0 C1045.9,442.7 1046.0,441.3 1046.0,440.0 C1046.0,438.7 1046.0,437.3 1046.0,436.0 C1046.1,434.7 1046.1,433.3 1046.1,432.0 C1046.1,430.7 1046.1,429.3 1046.1,428.0 C1046.1,426.7 1046.2,425.3 1046.2,424.0 C1046.2,422.7 1046.2,421.3 1046.2,420.0 C1046.2,418.7 1046.2,417.3 1046.3,416.0 C1046.3,414.7 1046.3,413.3 1046.3,412.0 C1046.3,410.7 1046.3,409.3 1046.3,408.0 C1046.4,406.7 1046.4,405.3 1046.4,404.0 C1046.4,402.7 1046.4,401.3 1046.4,400.0 C1046.4,398.7 1046.5,397.3 1046.5,396.0 C1046.5,394.7 1046.5,393.3 1046.5,392.0 C1046.5,390.7 1046.5,389.3 1046.6,388.0 C1046.6,386.7 1046.6,385.3 1046.6,384.0 C1046.6,382.7 1046.6,381.3 1046.6,380.0 C1046.7,378.7 1046.7,377.3 1046.7,376.0 C1046.7,374.7 1046.7,373.3 1046.7,372.0 C1046.7,370.7 1046.8,369.3 1046.8,368.0 C1046.8,366.7 1046.8,365.3 1046.8,364.0 C1046.8,362.7 1046.8,361.3 1046.9,360.0 C1046.9,358.7 1046.9,357.3 1046.9,356.0 C1046.9,354.7 1046.9,353.3 1046.9,352.0 C1047.0,350.7 1047.0,349.3 1047.0,348.0 C1047.0,346.7 1047.0,345.3 1047.0,344.0 C1047.0,342.7 1047.1,341.3 1047.1,340.0 C1047.1,338.7 1047.1,337.3 1047.1,336.0 C1047.1,334.7 1047.1,333.3 1047.2,332.0 C1047.2,330.7 1047.2,329.3 1047.2,328.0 C1047.2,326.7 1047.2,325.3 1047.2,324.0 C1047.3,322.7 1047.3,321.3 1047.3,320.0 C1047.3,318.7 1047.3,317.3 1047.3,316.0 C1047.3,314.7 1047.4,313.3 1047.4,312.0 C1047.4,310.7 1047.4,309.3 1047.4,308.0 C1047.4,306.7 1047.4,305.3 1047.5,304.0 C1047.5,302.7 1047.5,301.3 1047.5,300.0 C1047.5,298.7 1047.5,297.3 1047.6,296.0 C1047.6,294.7 1047.6,293.3 1047.6,292.0 C1047.7,290.7 1047.7,289.3 1047.7,288.0 C1047.7,286.7 1047.7,285.3 1047.8,284.0 C1047.8,282.7 1047.8,281.3 1047.8,280.0 C1047.9,278.7 1047.9,277.3 1047.9,276.0 C1047.9,274.7 1047.9,273.3 1048.0,272.0 C1048.0,270.7 1048.0,269.3 1048.0,268.0 C1048.1,266.7 1048.1,265.3 1048.1,264.0 C1048.1,262.7 1048.1,261.3 1048.2,260.0 C1048.2,258.7 1048.2,257.3 1048.2,256.0 C1048.3,254.7 1048.3,253.3 1048.3,252.0 C1048.3,250.7 1048.3,249.3 1048.4,248.0 C1048.4,246.7 1048.4,245.3 1048.4,244.0 C1048.5,242.7 1048.5,241.3 1048.5,240.0 C1048.5,238.7 1048.6,237.3 1048.6,236.0 C1048.6,234.7 1048.7,233.3 1048.7,232.0 C1048.7,230.7 1048.8,229.3 1048.8,228.0 C1048.8,226.7 1048.9,225.3 1048.9,224.0 C1048.9,222.7 1049.0,221.3 1049.0,220.0 C1049.0,218.7 1049.1,217.3 1049.1,216.0 C1049.1,214.7 1049.2,213.3 1049.2,212.0 C1049.2,210.7 1049.3,209.3 1049.3,208.0 C1049.3,206.7 1049.4,205.3 1049.4,204.0 C1049.4,202.7 1049.4,201.2 1049.5,200.0 C1049.6,198.8 1049.8,198.1 1049.9,196.7 C1050.0,195.3 1050.1,193.0 1050.2,191.7 C1050.4,190.3 1050.5,189.9 1050.6,188.6 C1050.8,187.4 1050.7,185.7 1051.0,184.0 C1051.3,182.3 1052.0,178.7 1052.5,178.5 C1053.0,178.3 1053.7,181.6 1054.0,183.0 C1054.3,184.4 1054.3,185.5 1054.4,187.1 C1054.5,188.7 1054.7,191.0 1054.8,192.6 C1054.9,194.2 1055.1,195.3 1055.2,196.6 C1055.3,197.9 1055.5,199.1 1055.6,200.4 C1055.7,201.8 1055.9,203.6 1056.0,205.0 C1056.1,206.4 1056.1,207.7 1056.2,209.1 C1056.2,210.5 1056.3,211.8 1056.4,213.2 C1056.4,214.5 1056.5,215.9 1056.5,217.3 C1056.6,218.6 1056.7,220.0 1056.7,221.4 C1056.8,222.7 1056.8,224.1 1056.9,225.5 C1057.0,226.8 1057.0,228.2 1057.1,229.5 C1057.2,230.9 1057.2,232.3 1057.3,233.6 C1057.3,235.0 1057.4,236.4 1057.5,237.7 C1057.5,239.1 1057.6,240.5 1057.6,241.8 C1057.7,243.2 1057.8,244.5 1057.8,245.9 C1057.9,247.3 1058.0,248.6 1058.0,250.0 C1058.0,251.4 1058.1,252.8 1058.1,254.2 C1058.1,255.6 1058.1,256.9 1058.2,258.3 C1058.2,259.7 1058.2,261.1 1058.2,262.5 C1058.3,263.9 1058.3,265.3 1058.3,266.7 C1058.4,268.1 1058.4,269.4 1058.4,270.8 C1058.4,272.2 1058.5,273.6 1058.5,275.0 C1058.5,276.4 1058.6,277.8 1058.6,279.2 C1058.6,280.6 1058.6,281.9 1058.7,283.3 C1058.7,284.7 1058.7,286.1 1058.8,287.5 C1058.8,288.9 1058.8,290.3 1058.8,291.7 C1058.9,293.1 1058.9,294.4 1058.9,295.8 C1058.9,297.2 1059.0,298.6 1059.0,300.0 C1059.0,301.4 1059.0,302.7 1059.0,304.0 C1059.0,305.3 1059.0,306.7 1059.1,308.0 C1059.1,309.3 1059.1,310.7 1059.1,312.0 C1059.1,313.3 1059.1,314.7 1059.1,316.0 C1059.1,317.3 1059.1,318.7 1059.1,320.0 C1059.2,321.3 1059.2,322.7 1059.2,324.0 C1059.2,325.3 1059.2,326.7 1059.2,328.0 C1059.2,329.3 1059.2,330.7 1059.2,332.0 C1059.2,333.3 1059.2,334.7 1059.3,336.0 C1059.3,337.3 1059.3,338.7 1059.3,340.0 C1059.3,341.3 1059.3,342.7 1059.3,344.0 C1059.3,345.3 1059.3,346.7 1059.3,348.0 C1059.4,349.3 1059.4,350.7 1059.4,352.0 C1059.4,353.3 1059.4,354.7 1059.4,356.0 C1059.4,357.3 1059.4,358.7 1059.4,360.0 C1059.4,361.3 1059.4,362.7 1059.5,364.0 C1059.5,365.3 1059.5,366.7 1059.5,368.0 C1059.5,369.3 1059.5,370.7 1059.5,372.0 C1059.5,373.3 1059.5,374.7 1059.5,376.0 C1059.6,377.3 1059.6,378.7 1059.6,380.0 C1059.6,381.3 1059.6,382.7 1059.6,384.0 C1059.6,385.3 1059.6,386.7 1059.6,388.0 C1059.6,389.3 1059.6,390.7 1059.7,392.0 C1059.7,393.3 1059.7,394.7 1059.7,396.0 C1059.7,397.3 1059.7,398.7 1059.7,400.0 C1059.7,401.3 1059.7,402.7 1059.7,404.0 C1059.8,405.3 1059.8,406.7 1059.8,408.0 C1059.8,409.3 1059.8,410.7 1059.8,412.0 C1059.8,413.3 1059.8,414.7 1059.8,416.0 C1059.8,417.3 1059.8,418.7 1059.9,420.0 C1059.9,421.3 1059.9,422.7 1059.9,424.0 C1059.9,425.3 1059.9,426.7 1059.9,428.0 C1059.9,429.3 1059.9,430.7 1059.9,432.0 C1060.0,433.3 1060.0,434.7 1060.0,436.0 C1060.0,437.3 1060.0,438.7 1060.0,440.0 C1060.0,441.3 1060.0,442.7 1060.0,444.0 C1060.0,445.3 1060.1,446.7 1060.1,448.0 C1060.1,449.3 1060.1,450.7 1060.1,452.0 C1060.1,453.3 1060.1,454.7 1060.1,456.0 C1060.1,457.3 1060.1,458.7 1060.2,460.0 C1060.2,461.3 1060.2,462.7 1060.2,464.0 C1060.2,465.3 1060.2,466.7 1060.2,468.0 C1060.2,469.3 1060.2,470.7 1060.3,472.0 C1060.3,473.3 1060.3,474.7 1060.3,476.0 C1060.3,477.3 1060.3,478.7 1060.3,480.0 C1060.3,481.3 1060.3,482.7 1060.4,484.0 C1060.4,485.3 1060.4,486.7 1060.4,488.0 C1060.4,489.3 1060.4,490.7 1060.4,492.0 C1060.4,493.3 1060.4,494.7 1060.4,496.0 C1060.5,497.3 1060.5,498.7 1060.5,500.0 C1060.5,501.3 1060.5,502.7 1060.5,504.0 C1060.5,505.3 1060.5,506.7 1060.5,508.0 C1060.6,509.3 1060.6,510.7 1060.6,512.0 C1060.6,513.3 1060.6,514.7 1060.6,516.0 C1060.6,517.3 1060.6,518.7 1060.6,520.0 C1060.7,521.3 1060.7,522.7 1060.7,524.0 C1060.7,525.3 1060.7,526.7 1060.7,528.0 C1060.7,529.3 1060.7,530.7 1060.7,532.0 C1060.7,533.3 1060.8,534.7 1060.8,536.0 C1060.8,537.3 1060.8,538.7 1060.8,540.0 C1060.8,541.3 1060.8,542.7 1060.8,544.0 C1060.9,545.3 1060.9,546.7 1060.9,548.0 C1060.9,549.3 1060.9,550.7 1060.9,552.0 C1061.0,553.3 1061.0,554.7 1061.0,556.0 C1061.0,557.3 1061.0,558.7 1061.0,560.0 C1061.1,561.3 1061.1,562.7 1061.1,564.0 C1061.1,565.3 1061.1,566.7 1061.1,568.0 C1061.2,569.3 1061.2,570.7 1061.2,572.0 C1061.2,573.3 1061.2,574.7 1061.2,576.0 C1061.2,577.3 1061.3,578.7 1061.3,580.0 C1061.3,581.3 1061.3,582.7 1061.3,584.0 C1061.3,585.3 1061.4,586.7 1061.4,588.0 C1061.4,589.3 1061.4,590.7 1061.4,592.0 C1061.4,593.3 1061.5,594.7 1061.5,596.0 C1061.5,597.3 1061.5,598.7 1061.5,600.0 C1061.5,601.3 1061.6,602.7 1061.6,604.0 C1061.6,605.3 1061.6,606.7 1061.6,608.0 C1061.6,609.3 1061.6,610.7 1061.7,612.0 C1061.7,613.3 1061.7,614.7 1061.7,616.0 C1061.7,617.3 1061.7,618.7 1061.8,620.0 C1061.8,621.3 1061.8,622.7 1061.8,624.0 C1061.8,625.3 1061.8,626.7 1061.9,628.0 C1061.9,629.3 1061.9,630.7 1061.9,632.0 C1061.9,633.3 1061.9,634.7 1062.0,636.0 C1062.0,637.3 1062.0,638.7 1062.0,640.0 C1062.0,641.3 1062.1,642.7 1062.2,644.0 C1062.2,645.3 1062.3,646.7 1062.4,648.0 C1062.4,649.3 1062.5,650.7 1062.5,652.0 C1062.6,653.3 1062.7,654.7 1062.7,656.0 C1062.8,657.3 1062.8,658.7 1062.9,660.0 C1063.0,661.3 1063.0,662.7 1063.1,664.0 C1063.1,665.3 1063.2,666.7 1063.3,668.0 C1063.3,669.3 1063.4,670.7 1063.4,672.0 C1063.5,673.3 1063.6,674.7 1063.6,676.0 C1063.7,677.3 1063.7,678.7 1063.8,680.0 C1063.9,681.3 1063.9,682.7 1064.0,684.0 C1064.0,685.3 1064.1,686.7 1064.2,688.0 C1064.2,689.3 1064.3,690.7 1064.3,692.0 C1064.4,693.3 1064.5,694.7 1064.5,696.0 C1064.6,697.3 1064.6,698.7 1064.7,700.0 C1064.8,701.3 1064.8,702.7 1064.9,704.0 C1064.9,705.3 1065.0,706.7 1065.1,708.0 C1065.1,709.3 1065.2,710.7 1065.2,712.0 C1065.3,713.3 1065.4,714.7 1065.4,716.0 C1065.5,717.3 1065.5,718.7 1065.6,720.0 C1065.7,721.3 1065.7,722.7 1065.8,724.0 C1065.8,725.3 1065.9,726.7 1066.0,728.0 C1066.0,729.3 1066.1,730.7 1066.1,732.0 C1066.2,733.3 1066.3,734.7 1066.3,736.0 C1066.4,737.3 1066.4,738.7 1066.5,740.0 C1066.6,741.3 1066.7,742.7 1066.8,744.0 C1066.9,745.3 1067.0,746.7 1067.1,748.0 C1067.2,749.3 1067.3,750.7 1067.4,752.0 C1067.5,753.3 1067.6,754.7 1067.7,756.0 C1067.8,757.3 1067.9,758.7 1068.0,760.0 C1068.0,761.3 1068.1,762.7 1068.2,764.0 C1068.3,765.3 1068.4,766.7 1068.5,768.0 C1068.6,769.3 1068.7,770.7 1068.8,772.0 C1068.9,773.3 1069.0,774.7 1069.1,776.0 C1069.2,777.3 1069.3,778.7 1069.4,780.0 C1069.5,781.3 1069.6,782.6 1069.8,783.8 C1069.9,785.1 1070.0,786.1 1070.1,787.7 C1070.3,789.3 1070.4,792.1 1070.5,793.5 C1070.6,795.0 1070.8,794.9 1070.9,796.3 C1071.0,797.7 1071.1,800.3 1071.3,802.0 C1071.4,803.7 1071.5,805.2 1071.6,806.5 C1071.8,807.9 1071.8,808.7 1072.0,810.0 C1072.2,811.3 1072.4,813.0 1072.7,814.3 C1072.9,815.6 1073.1,816.3 1073.3,817.7 C1073.6,819.2 1073.8,821.5 1074.0,823.2 C1074.2,824.8 1074.4,826.2 1074.7,827.5 C1074.9,828.9 1075.1,830.0 1075.3,831.2 C1075.6,832.4 1075.5,833.8 1076.0,835.0 C1076.5,836.2 1077.5,837.3 1078.2,838.4 C1078.9,839.5 1079.7,840.5 1080.4,841.6 C1081.1,842.7 1081.9,843.8 1082.6,844.9 C1083.3,846.0 1084.1,846.9 1084.8,848.1 C1085.5,849.2 1086.1,850.9 1087.0,852.0 C1087.9,853.1 1089.2,854.0 1090.2,854.8 C1091.3,855.6 1092.4,856.2 1093.5,856.9 C1094.6,857.6 1095.7,858.1 1096.8,858.9 C1097.8,859.8 1098.7,861.6 1100.0,862.0 C1101.3,862.4 1102.9,861.4 1104.3,861.6 C1105.7,861.7 1107.1,862.7 1108.6,862.9 C1110.0,863.0 1111.4,862.4 1112.9,862.5 C1114.3,862.5 1115.7,863.0 1117.1,863.1 C1118.6,863.2 1120.0,862.9 1121.4,863.1 C1122.9,863.3 1124.3,864.2 1125.7,864.4 C1127.1,864.5 1128.6,864.0 1130.0,864.0 C1131.4,864.0 1132.9,864.8 1134.3,864.6 C1135.7,864.4 1137.1,863.1 1138.6,862.8 C1140.0,862.6 1141.4,863.0 1142.9,863.0 C1144.3,863.1 1145.7,862.9 1147.1,863.1 C1148.6,863.3 1150.0,864.1 1151.4,864.2 C1152.9,864.3 1154.3,863.8 1155.7,863.7 C1157.1,863.5 1158.6,863.3 1160.0,863.0 C1161.4,862.7 1162.7,862.4 1164.0,862.1 C1165.3,861.8 1166.7,861.4 1168.0,861.3 C1169.3,861.2 1170.7,861.5 1172.0,861.5 C1173.3,861.5 1174.7,861.3 1176.0,861.2 C1177.3,861.1 1178.7,861.1 1180.0,860.8 C1181.3,860.4 1182.7,859.3 1184.0,859.1 C1185.3,858.9 1186.7,859.6 1188.0,859.5 C1189.3,859.4 1190.7,858.9 1192.0,858.5 C1193.3,858.2 1194.7,857.8 1196.0,857.6 C1197.3,857.3 1198.7,857.1 1200.0,857.0 C1201.3,856.9 1202.7,857.5 1204.0,857.2 C1205.3,856.9 1206.7,855.4 1208.0,855.1 C1209.3,854.8 1210.7,855.6 1212.0,855.3 C1213.3,855.0 1214.7,853.9 1216.0,853.5 C1217.3,853.1 1218.7,852.9 1220.0,852.9 C1221.3,852.9 1222.7,853.8 1224.0,853.5 C1225.3,853.3 1226.7,851.9 1228.0,851.6 C1229.3,851.3 1230.7,852.0 1232.0,851.9 C1233.3,851.7 1234.7,851.2 1236.0,850.9 C1237.3,850.6 1238.6,850.3 1240.0,850.0 C1241.4,849.7 1242.8,849.8 1244.2,849.3 C1245.6,848.8 1246.9,847.7 1248.3,847.1 C1249.7,846.5 1251.1,846.2 1252.5,845.7 C1253.9,845.2 1255.3,844.6 1256.7,844.3 C1258.1,844.0 1259.4,844.4 1260.8,844.0 C1262.2,843.6 1263.6,842.2 1265.0,842.0 C1266.4,841.8 1267.8,842.4 1269.2,842.7 C1270.6,843.0 1271.9,843.6 1273.3,843.8 C1274.7,844.1 1276.1,844.3 1277.5,844.2 C1278.9,844.1 1280.3,843.3 1281.7,843.3 C1283.1,843.4 1284.4,844.3 1285.8,844.6 C1287.2,844.9 1288.6,845.1 1290.0,845.0 C1291.4,844.9 1292.9,844.2 1294.3,844.0 C1295.7,843.8 1297.1,843.7 1298.6,843.6 C1300.0,843.5 1301.4,843.2 1302.9,843.4 C1304.3,843.5 1305.7,844.4 1307.1,844.5 C1308.6,844.6 1310.0,844.2 1311.4,844.1 C1312.9,844.0 1314.3,844.1 1315.7,843.9 C1317.1,843.7 1318.6,843.4 1320.0,843.0 C1321.4,842.6 1322.7,841.9 1324.0,841.5 C1325.3,841.1 1326.7,841.1 1328.0,840.8 C1329.3,840.5 1330.7,840.4 1332.0,839.9 C1333.3,839.4 1334.7,838.5 1336.0,838.0 C1337.3,837.5 1338.7,837.5 1340.0,837.0 C1341.3,836.5 1342.5,835.7 1343.8,834.9 C1345.0,834.0 1346.2,832.9 1347.5,832.0 C1348.8,831.1 1350.0,830.2 1351.2,829.5 C1352.5,828.8 1353.5,828.7 1355.0,828.0 C1356.5,827.3 1358.3,826.2 1360.0,825.6 C1361.7,824.9 1363.3,823.7 1365.0,824.0 C1366.7,824.3 1368.3,826.4 1370.0,827.2 C1371.7,828.0 1373.6,828.1 1375.0,829.0 C1376.4,829.9 1377.2,831.2 1378.3,832.4 C1379.4,833.7 1380.6,835.3 1381.7,836.4 C1382.8,837.5 1383.8,838.3 1385.0,839.0 C1386.2,839.7 1387.5,840.2 1388.8,840.7 C1390.0,841.2 1391.2,841.4 1392.5,842.1 C1393.8,842.8 1395.0,844.1 1396.2,844.8 C1397.5,845.4 1398.7,845.7 1400.0,846.0 C1401.3,846.3 1402.7,846.9 1404.0,846.8 C1405.3,846.7 1406.7,845.5 1408.0,845.5 C1409.3,845.5 1410.7,846.8 1412.0,846.9 C1413.3,847.0 1414.7,846.2 1416.0,846.1 C1417.3,846.0 1418.7,846.0 1420.0,846.3 C1421.3,846.6 1422.7,847.8 1424.0,847.9 C1425.3,847.9 1426.7,846.7 1428.0,846.6 C1429.3,846.4 1430.7,846.8 1432.0,847.1 C1433.3,847.5 1434.7,848.5 1436.0,848.7 C1437.3,848.8 1438.7,848.1 1440.0,848.0 C1441.3,847.9 1442.7,848.0 1444.0,847.9 C1445.3,847.7 1446.7,847.4 1448.0,847.3 C1449.3,847.2 1450.7,847.4 1452.0,847.4 C1453.3,847.4 1454.7,847.4 1456.0,847.5 C1457.3,847.7 1458.7,848.5 1460.0,848.4 C1461.3,848.4 1462.7,847.2 1464.0,847.3 C1465.3,847.3 1466.7,848.7 1468.0,848.7 C1469.3,848.8 1470.7,847.8 1472.0,847.8 C1473.3,847.8 1474.7,848.8 1476.0,848.8 C1477.3,848.9 1478.7,848.1 1480.0,848.0 C1481.3,847.9 1482.7,848.5 1484.0,848.3 C1485.3,848.1 1486.7,847.2 1488.0,846.8 C1489.3,846.5 1490.7,846.4 1492.0,846.4 C1493.3,846.3 1494.7,846.5 1496.0,846.4 C1497.3,846.2 1498.7,845.4 1500.0,845.3 C1501.3,845.2 1502.7,846.0 1504.0,845.9 C1505.3,845.7 1506.7,844.7 1508.0,844.4 C1509.3,844.0 1510.7,843.8 1512.0,843.9 C1513.3,844.1 1514.7,845.3 1516.0,845.3 C1517.3,845.3 1518.6,844.2 1520.0,844.0 C1521.4,843.8 1522.9,843.7 1524.3,843.8 C1525.7,843.9 1527.1,844.4 1528.6,844.5 C1530.0,844.6 1531.4,844.4 1532.9,844.3 C1534.3,844.3 1535.7,844.3 1537.1,844.2 C1538.6,844.2 1540.0,843.7 1541.4,843.9 C1542.9,844.2 1544.3,845.4 1545.7,845.6 C1547.1,845.8 1548.6,844.8 1550.0,845.0 C1551.4,845.2 1552.9,846.5 1554.3,847.0 C1555.7,847.5 1557.1,848.0 1558.6,848.1 C1560.0,848.3 1561.4,847.6 1562.9,847.7 C1564.3,847.9 1565.7,848.5 1567.1,849.1 C1568.6,849.6 1570.0,850.3 1571.4,850.9 C1572.9,851.5 1574.3,852.4 1575.7,852.7 C1577.1,853.1 1578.6,852.9 1580.0,853.0 C1581.4,853.1 1582.7,853.2 1584.0,853.4 C1585.3,853.5 1586.7,853.8 1588.0,853.9 C1589.3,854.1 1590.7,854.2 1592.0,854.2 C1593.3,854.2 1594.7,853.7 1596.0,853.8 C1597.3,853.8 1598.7,854.5 1600.0,854.6 C1601.3,854.7 1602.7,854.4 1604.0,854.5 C1605.3,854.5 1606.7,854.6 1608.0,854.6 C1609.3,854.7 1610.7,854.5 1612.0,854.6 C1613.3,854.8 1614.7,855.1 1616.0,855.3 C1617.3,855.5 1618.7,855.7 1620.0,856.0 C1621.3,856.3 1622.7,857.2 1624.0,857.3 C1625.3,857.4 1626.7,856.7 1628.0,856.7 C1629.3,856.7 1630.7,857.3 1632.0,857.5 C1633.3,857.7 1634.7,857.6 1636.0,857.9 C1637.3,858.1 1638.7,858.7 1640.0,858.8 C1641.3,858.9 1642.7,858.3 1644.0,858.2 C1645.3,858.1 1646.7,858.3 1648.0,858.5 C1649.3,858.6 1650.7,858.8 1652.0,858.9 C1653.3,859.0 1654.7,859.0 1656.0,859.3 C1657.3,859.6 1658.7,860.3 1660.0,860.6 C1661.3,860.9 1662.7,861.1 1664.0,861.1 C1665.3,861.1 1666.7,860.5 1668.0,860.4 C1669.3,860.4 1670.7,860.7 1672.0,860.9 C1673.3,861.1 1674.7,861.5 1676.0,861.7 C1677.3,861.9 1678.7,861.9 1680.0,862.0 C1681.3,862.1 1682.7,862.1 1684.0,862.1 C1685.3,862.2 1686.7,862.3 1688.0,862.2 C1689.3,862.1 1690.7,861.7 1692.0,861.5 C1693.3,861.4 1694.7,861.1 1696.0,861.1 C1697.3,861.2 1698.7,861.9 1700.0,862.0 C1701.3,862.1 1702.7,861.7 1704.0,861.6 C1705.3,861.5 1706.7,861.2 1708.0,861.3 C1709.3,861.4 1710.7,862.2 1712.0,862.2 C1713.3,862.2 1714.7,861.5 1716.0,861.4 C1717.3,861.3 1718.7,861.3 1720.0,861.4 C1721.3,861.6 1722.7,862.4 1724.0,862.5 C1725.3,862.6 1726.7,861.8 1728.0,861.9 C1729.3,862.0 1730.7,862.8 1732.0,862.8 C1733.3,862.9 1734.7,862.3 1736.0,862.3 C1737.3,862.4 1738.7,863.1 1740.0,863.1 C1741.3,863.0 1742.7,861.9 1744.0,861.8 C1745.3,861.7 1746.7,862.3 1748.0,862.5 C1749.3,862.7 1750.7,863.2 1752.0,863.1 C1753.3,862.9 1754.7,861.7 1756.0,861.8 C1757.3,861.9 1758.7,863.4 1760.0,863.4 C1761.3,863.5 1762.7,862.1 1764.0,862.1 C1765.3,862.0 1766.7,862.9 1768.0,863.2 C1769.3,863.4 1770.7,863.6 1772.0,863.6 C1773.3,863.6 1774.7,863.5 1776.0,863.3 C1777.3,863.2 1778.7,862.7 1780.0,862.5 C1781.3,862.3 1782.7,862.1 1784.0,862.1 C1785.3,862.2 1786.7,862.6 1788.0,862.9 C1789.3,863.2 1790.7,863.7 1792.0,863.7 C1793.3,863.6 1794.7,862.7 1796.0,862.6 C1797.3,862.5 1798.7,862.8 1800.0,863.0 C1801.3,863.2 1802.7,863.8 1804.0,863.7 C1805.3,863.6 1806.7,862.4 1808.0,862.4 C1809.3,862.4 1810.7,863.8 1812.0,863.7 C1813.3,863.7 1814.7,862.3 1816.0,862.2 C1817.3,862.0 1818.7,862.4 1820.0,862.7 C1821.3,862.9 1822.7,863.6 1824.0,863.7 C1825.3,863.9 1826.7,863.5 1828.0,863.5 C1829.3,863.5 1830.7,863.7 1832.0,863.7 C1833.3,863.7 1834.7,863.7 1836.0,863.6 C1837.3,863.6 1838.7,863.5 1840.0,863.4 C1841.3,863.4 1842.7,863.5 1844.0,863.3 C1845.3,863.2 1846.7,862.5 1848.0,862.4 C1849.3,862.3 1850.7,862.9 1852.0,862.9 C1853.3,862.9 1854.7,862.3 1856.0,862.4 C1857.3,862.5 1858.7,863.2 1860.0,863.4 C1861.3,863.5 1862.7,863.4 1864.0,863.3 C1865.3,863.2 1866.7,862.7 1868.0,862.6 C1869.3,862.4 1870.7,862.0 1872.0,862.2 C1873.3,862.4 1874.7,863.6 1876.0,863.8 C1877.3,864.1 1878.7,863.7 1880.0,863.6 C1881.3,863.4 1882.7,863.2 1884.0,863.1 C1885.3,863.0 1886.7,863.0 1888.0,863.1 C1889.3,863.2 1890.7,863.7 1892.0,863.6 C1893.3,863.6 1894.7,863.1 1896.0,862.9 C1897.3,862.8 1898.7,862.8 1900.0,862.8 C1901.3,862.8 1902.7,862.8 1904.0,862.7 C1905.3,862.7 1906.7,862.7 1908.0,862.6 C1909.3,862.5 1910.7,862.0 1912.0,862.1 C1913.3,862.3 1914.7,863.1 1916.0,863.3 C1917.3,863.4 1918.7,862.9 1920.0,862.9 C1921.3,862.8 1922.7,863.2 1924.0,863.1 C1925.3,863.0 1926.7,862.3 1928.0,862.2 C1929.3,862.1 1930.7,862.7 1932.0,862.7 C1933.3,862.8 1934.7,862.4 1936.0,862.3 C1937.3,862.3 1938.7,862.3 1940.0,862.3 C1941.3,862.4 1942.7,862.4 1944.0,862.6 C1945.3,862.8 1946.7,863.6 1948.0,863.6 C1949.3,863.6 1950.7,862.9 1952.0,862.8 C1953.3,862.7 1954.7,862.8 1956.0,862.8 C1957.3,862.9 1958.7,863.3 1960.0,863.2 C1961.3,863.2 1962.7,862.7 1964.0,862.5 C1965.3,862.3 1966.7,862.0 1968.0,862.1 C1969.3,862.2 1970.7,862.9 1972.0,863.1 C1973.3,863.2 1974.7,863.0 1976.0,863.0 C1977.3,863.0 1978.7,863.3 1980.0,863.3 C1981.3,863.2 1982.7,862.9 1984.0,862.9 C1985.3,862.9 1986.7,863.2 1988.0,863.3 C1989.3,863.4 1990.7,863.6 1992.0,863.4 C1993.3,863.3 1994.7,862.6 1996.0,862.5 C1997.3,862.5 1998.7,862.9 2000.0,863.0 C2001.3,863.1 2002.7,863.0 2004.0,863.0 C2005.3,862.9 2006.7,862.5 2008.0,862.5 C2009.3,862.5 2010.7,862.7 2012.0,862.8 C2013.3,862.9 2014.7,863.0 2016.0,863.1 C2017.3,863.3 2018.7,863.6 2020.0,863.7 C2021.3,863.8 2022.7,863.9 2024.0,863.8 C2025.3,863.6 2026.7,862.7 2028.0,862.6 C2029.3,862.5 2030.7,863.3 2032.0,863.3 C2033.3,863.2 2034.7,862.4 2036.0,862.2 C2037.3,862.0 2038.7,862.1 2040.0,862.2 C2041.3,862.4 2042.7,862.8 2044.0,863.0 C2045.3,863.3 2046.7,863.8 2048.0,863.7 C2049.3,863.6 2050.7,862.4 2052.0,862.4 C2053.3,862.4 2054.7,863.3 2056.0,863.5 C2057.3,863.7 2058.7,863.8 2060.0,863.7 C2061.3,863.6 2062.7,862.7 2064.0,862.7 C2065.3,862.6 2066.7,863.2 2068.0,863.3 C2069.3,863.5 2070.7,863.7 2072.0,863.6 C2073.3,863.5 2074.7,862.8 2076.0,862.8 C2077.3,862.7 2078.7,863.3 2080.0,863.4 C2081.3,863.5 2082.7,863.5 2084.0,863.4 C2085.3,863.4 2086.7,863.1 2088.0,863.2 C2089.3,863.2 2090.7,863.6 2092.0,863.6 C2093.3,863.7 2094.7,863.8 2096.0,863.7 C2097.3,863.6 2098.7,863.0 2100.0,863.0 C2101.3,863.0 2102.7,863.7 2104.0,863.7 C2105.3,863.7 2106.7,863.1 2108.0,862.9 C2109.3,862.6 2110.7,862.2 2112.0,862.0 C2113.3,861.9 2114.7,862.0 2116.0,862.0 C2117.3,862.0 2118.7,861.8 2120.0,861.8 C2121.3,861.9 2122.7,862.2 2124.0,862.3 C2125.3,862.4 2126.7,862.7 2128.0,862.5 C2129.3,862.3 2130.7,861.2 2132.0,861.1 C2133.3,861.1 2134.7,862.0 2136.0,862.1 C2137.3,862.3 2138.7,862.2 2140.0,862.1 C2141.3,861.9 2142.7,861.4 2144.0,861.3 C2145.3,861.2 2146.7,861.5 2148.0,861.4 C2149.3,861.3 2150.7,860.6 2152.0,860.7 C2153.3,860.7 2154.7,861.5 2156.0,861.5 C2157.3,861.6 2158.5,861.5 2160.0,861.0 C2161.5,860.5 2163.3,858.9 2165.0,858.5 C2166.7,858.1 2168.3,859.0 2170.0,858.5 C2171.7,858.1 2173.5,856.1 2175.0,856.0 C2176.5,855.9 2177.5,857.5 2178.8,858.1 C2180.0,858.6 2181.2,858.9 2182.5,859.2 C2183.8,859.6 2185.0,859.6 2186.2,860.1 C2187.5,860.5 2188.7,861.6 2190.0,862.0 C2191.3,862.4 2192.8,862.6 2194.1,862.7 C2195.5,862.8 2196.9,863.0 2198.2,862.7 C2199.6,862.4 2201.0,861.2 2202.4,861.2 C2203.8,861.1 2205.1,862.1 2206.5,862.2 C2207.9,862.4 2209.2,862.4 2210.6,862.3 C2212.0,862.2 2213.4,862.0 2214.8,861.9 C2216.1,861.8 2217.5,862.0 2218.9,861.9 C2220.2,861.8 2221.6,861.4 2223.0,861.4 C2224.4,861.4 2225.8,862.1 2227.1,862.2 C2228.5,862.3 2229.9,862.4 2231.2,862.2 C2232.6,862.0 2234.0,861.2 2235.4,861.1 C2236.8,861.0 2238.1,861.8 2239.5,861.8 C2240.9,861.8 2242.2,861.3 2243.6,861.1 C2245.0,860.9 2246.4,860.6 2247.8,860.5 C2249.1,860.5 2250.5,860.7 2251.9,860.7 C2253.2,860.8 2255.3,861.0 2256.0,861.0" fill="none" stroke="#000" stroke-width="9" stroke-linejoin="round" stroke-linecap="round"/></g>
<g clip-path="url(#pb)"><path d="M266.5,1037.0 C266.6,1035.8 266.8,1032.3 267.0,1030.0 C267.2,1027.7 267.3,1024.6 268.0,1023.0 C268.7,1021.4 270.0,1019.9 271.4,1020.5 C272.8,1021.1 275.0,1024.1 276.4,1026.5 C277.8,1028.9 278.8,1032.1 280.0,1035.0 C281.2,1037.9 282.4,1041.2 283.6,1044.0 C284.8,1046.8 285.8,1049.3 287.0,1052.0 C288.2,1054.7 289.4,1057.6 290.7,1060.0 C292.0,1062.4 293.2,1064.4 295.0,1066.4 C296.8,1068.4 299.1,1070.5 301.4,1072.0 C303.7,1073.5 306.2,1074.5 308.6,1075.5 C311.0,1076.5 313.3,1076.8 315.7,1077.9 C318.1,1079.0 320.8,1080.0 322.9,1082.0 C325.0,1084.0 326.8,1087.3 328.6,1090.0 C330.4,1092.7 331.9,1095.1 333.6,1098.0 C335.3,1100.9 336.9,1104.0 338.6,1107.5 C340.3,1111.0 341.7,1114.2 343.6,1119.0 C345.5,1123.8 347.3,1128.3 350.0,1136.0 C352.7,1143.7 356.3,1154.4 360.0,1165.0 C363.7,1175.6 368.0,1188.4 372.0,1199.5 C376.0,1210.6 380.2,1221.9 384.0,1231.5 C387.8,1241.1 391.2,1248.8 395.0,1257.0 C398.8,1265.2 403.2,1273.5 407.0,1281.0 C410.8,1288.5 414.1,1294.0 418.0,1302.0 C421.9,1310.0 426.5,1319.5 430.7,1328.8 C434.9,1338.1 439.6,1348.5 443.4,1358.0 C447.2,1367.5 450.0,1376.4 453.6,1385.9 C457.2,1395.4 461.2,1405.5 465.0,1415.0 C468.8,1424.5 472.4,1434.1 476.4,1443.0 C480.4,1451.9 484.5,1460.5 489.1,1468.3 C493.8,1476.1 499.2,1484.0 504.3,1489.9 C509.4,1495.8 513.8,1499.9 519.5,1503.9 C525.2,1507.9 532.7,1511.5 538.6,1514.0 C544.5,1516.5 548.9,1516.8 555.0,1519.0 C561.1,1521.2 567.5,1523.2 575.0,1527.0 C582.5,1530.8 591.8,1536.8 600.0,1542.0 C608.2,1547.2 616.0,1552.0 624.0,1558.0 C632.0,1564.0 640.2,1571.9 648.0,1578.3 C655.8,1584.7 663.2,1591.8 671.0,1596.2 C678.8,1600.7 688.3,1603.3 695.0,1605.0 C701.7,1606.7 705.0,1606.5 711.0,1606.3 C717.0,1606.1 723.7,1605.9 731.0,1604.0 C738.3,1602.1 747.0,1598.9 755.0,1595.0 C763.0,1591.1 771.5,1585.5 779.0,1580.7 C786.5,1575.9 791.7,1573.4 800.0,1566.4 C808.3,1559.4 819.7,1546.5 829.0,1538.6 C838.3,1530.7 848.0,1524.2 856.0,1519.0 C864.0,1513.8 869.7,1507.6 877.0,1507.3 C884.3,1507.0 893.2,1512.7 900.0,1517.0 C906.8,1521.3 912.8,1527.9 918.0,1533.0 C923.2,1538.1 925.0,1541.8 931.0,1547.5 C937.0,1553.2 945.7,1561.9 954.0,1567.0 C962.3,1572.1 972.0,1575.6 981.0,1578.0 C990.0,1580.4 999.8,1581.4 1008.0,1581.4 C1016.2,1581.4 1023.3,1579.1 1030.0,1578.0 C1036.7,1576.9 1040.5,1576.1 1048.0,1575.0 C1055.5,1573.9 1067.6,1573.8 1075.0,1571.4 C1082.4,1569.0 1086.6,1564.1 1092.5,1560.7 C1098.4,1557.3 1104.5,1554.3 1110.4,1550.9 C1116.4,1547.5 1122.3,1542.9 1128.2,1540.2 C1134.1,1537.5 1140.9,1535.7 1146.0,1534.8 C1151.1,1533.9 1154.1,1534.0 1158.6,1534.8 C1163.1,1535.5 1167.6,1537.5 1172.9,1539.3 C1178.2,1541.1 1184.8,1544.2 1190.7,1545.5 C1196.7,1546.8 1202.6,1545.9 1208.6,1546.8 C1214.5,1547.7 1220.5,1549.5 1226.4,1550.9 C1232.4,1552.3 1238.4,1554.4 1244.3,1555.4 C1250.2,1556.4 1256.0,1556.4 1262.0,1557.1 C1268.0,1557.8 1275.3,1558.9 1280.0,1559.8 C1284.7,1560.7 1286.8,1561.4 1290.0,1562.4 C1293.2,1563.4 1296.3,1564.1 1299.5,1565.7 C1302.7,1567.3 1305.8,1569.1 1309.0,1571.9 C1312.2,1574.7 1315.4,1578.4 1318.6,1582.4 C1321.8,1586.4 1324.9,1591.3 1328.1,1595.7 C1331.3,1600.1 1334.4,1603.9 1337.6,1609.0 C1340.8,1614.1 1343.9,1620.3 1347.1,1626.2 C1350.3,1632.1 1353.5,1638.3 1356.7,1644.3 C1359.9,1650.3 1363.0,1656.9 1366.2,1662.4 C1369.4,1668.0 1372.5,1672.8 1375.7,1677.6 C1378.9,1682.4 1382.0,1687.3 1385.2,1691.0 C1388.4,1694.7 1391.6,1697.0 1394.8,1699.5 C1398.0,1702.0 1401.1,1704.1 1404.3,1706.2 C1407.5,1708.3 1410.6,1710.3 1413.8,1711.9 C1417.0,1713.5 1420.1,1714.4 1423.3,1715.7 C1426.5,1717.0 1428.9,1718.1 1432.9,1719.5 C1436.9,1720.9 1439.2,1721.6 1447.1,1724.3 C1454.9,1727.0 1469.5,1732.2 1480.0,1735.6 C1490.5,1739.0 1500.0,1741.8 1510.0,1744.5 C1520.0,1747.2 1530.0,1749.9 1540.0,1752.0 C1550.0,1754.1 1560.0,1755.8 1570.0,1757.0 C1580.0,1758.2 1586.7,1758.7 1600.0,1759.5 C1613.3,1760.3 1633.3,1761.1 1650.0,1761.8 C1666.7,1762.5 1683.3,1763.3 1700.0,1763.9 C1716.7,1764.5 1735.0,1765.2 1750.0,1765.4 C1765.0,1765.6 1778.3,1765.3 1790.0,1765.0 C1801.7,1764.7 1808.3,1763.5 1820.0,1763.4 C1831.7,1763.3 1846.7,1763.4 1860.0,1764.3 C1873.3,1765.2 1885.0,1767.7 1900.0,1769.0 C1915.0,1770.3 1933.3,1771.5 1950.0,1772.0 C1966.7,1772.5 1985.0,1772.1 2000.0,1772.0 C2015.0,1771.9 2026.7,1770.8 2040.0,1771.4 C2053.3,1772.0 2066.7,1774.2 2080.0,1775.7 C2093.3,1777.2 2106.7,1779.5 2120.0,1780.6 C2133.3,1781.7 2146.7,1782.1 2160.0,1782.3 C2173.3,1782.5 2184.0,1782.2 2200.0,1782.0 C2216.0,1781.8 2246.7,1781.5 2256.0,1781.4" fill="none" stroke="#ee0000" stroke-width="8.2" stroke-linejoin="round" stroke-linecap="round"/></g>
<g clip-path="url(#pc)"><path d="M266.5,2017.0 C266.6,2015.8 266.8,2013.3 267.0,2010.0 C267.2,2006.7 267.2,2000.5 268.0,1997.0 C268.8,1993.5 270.7,1989.5 272.0,1989.0 C273.3,1988.5 274.2,1991.7 276.0,1994.0 C277.8,1996.3 280.7,2000.0 283.0,2003.0 C285.3,2006.0 287.8,2009.4 290.0,2012.0 C292.2,2014.6 294.2,2017.0 296.0,2018.5 C297.8,2020.0 299.2,2020.7 301.0,2021.0 C302.8,2021.3 305.0,2021.2 307.0,2020.5 C309.0,2019.8 311.0,2017.9 313.0,2017.0 C315.0,2016.1 316.8,2014.9 319.0,2015.0 C321.2,2015.1 324.2,2016.2 326.0,2017.5 C327.8,2018.8 328.5,2020.4 330.0,2023.0 C331.5,2025.6 333.3,2029.7 335.0,2033.0 C336.7,2036.3 338.3,2039.5 340.0,2043.0 C341.7,2046.5 343.3,2050.0 345.0,2054.0 C346.7,2058.0 348.0,2061.0 350.0,2067.0 C352.0,2073.0 353.4,2077.5 357.2,2090.0 C361.0,2102.5 367.2,2126.3 372.7,2142.0 C378.2,2157.7 384.4,2172.0 390.0,2184.0 C395.6,2196.0 400.8,2204.5 406.0,2214.0 C411.2,2223.5 416.2,2231.2 421.0,2241.0 C425.8,2250.8 430.4,2261.5 434.7,2272.5 C439.0,2283.5 442.8,2295.5 446.8,2307.0 C450.8,2318.5 454.2,2329.9 458.8,2341.4 C463.4,2352.9 468.8,2365.0 474.3,2375.9 C479.8,2386.8 485.0,2397.5 491.6,2406.9 C498.2,2416.3 506.1,2423.9 513.8,2432.1 C521.5,2440.3 531.6,2450.2 537.6,2456.0 C543.6,2461.8 543.5,2461.8 549.5,2466.7 C555.5,2471.6 565.4,2479.3 573.3,2485.7 C581.2,2492.0 589.3,2498.1 597.1,2504.8 C604.9,2511.5 611.4,2518.0 620.0,2526.0 C628.6,2534.0 640.9,2545.2 649.0,2553.0 C657.1,2560.8 661.8,2567.6 668.6,2572.6 C675.4,2577.6 683.9,2580.6 690.0,2583.0 C696.1,2585.4 700.0,2586.0 705.0,2587.0 C710.0,2588.0 714.2,2588.7 720.0,2589.0 C725.8,2589.3 733.3,2589.4 740.0,2589.0 C746.7,2588.6 753.3,2588.3 760.0,2586.5 C766.7,2584.7 773.3,2580.6 780.0,2578.0 C786.7,2575.4 793.3,2573.5 800.0,2571.2 C806.7,2568.9 813.3,2565.8 820.0,2564.4 C826.7,2563.0 833.3,2563.0 840.0,2563.0 C846.7,2563.0 853.3,2562.7 860.0,2564.4 C866.7,2566.2 873.3,2570.2 880.0,2573.5 C886.7,2576.8 893.3,2580.9 900.0,2583.9 C906.7,2586.9 913.3,2589.7 920.0,2591.5 C926.7,2593.3 933.3,2593.9 940.0,2594.7 C946.7,2595.4 953.3,2596.2 960.0,2596.0 C966.7,2595.8 973.3,2595.3 980.0,2593.8 C986.7,2592.3 993.3,2589.3 1000.0,2587.0 C1006.7,2584.7 1013.3,2582.2 1020.0,2580.2 C1026.7,2578.2 1033.3,2575.9 1040.0,2574.8 C1046.7,2573.7 1053.3,2574.1 1060.0,2573.5 C1066.7,2572.9 1073.3,2573.1 1080.0,2571.2 C1086.7,2569.3 1093.3,2565.0 1100.0,2562.0 C1106.7,2559.0 1113.3,2555.2 1120.0,2553.0 C1126.7,2550.8 1133.3,2549.5 1140.0,2548.6 C1146.7,2547.7 1153.3,2547.8 1160.0,2547.7 C1166.7,2547.5 1173.3,2547.8 1180.0,2547.7 C1186.7,2547.6 1194.5,2548.0 1200.0,2547.4 C1205.5,2546.8 1208.7,2545.5 1213.1,2544.2 C1217.5,2542.9 1221.8,2541.6 1226.2,2539.6 C1230.6,2537.6 1234.9,2535.0 1239.3,2532.4 C1243.7,2529.8 1248.0,2526.7 1252.4,2523.9 C1256.8,2521.1 1261.1,2518.0 1265.5,2515.4 C1269.9,2512.8 1274.2,2510.1 1278.6,2508.2 C1283.0,2506.3 1287.3,2504.9 1291.7,2504.2 C1296.1,2503.5 1300.4,2503.3 1304.8,2504.2 C1309.2,2505.1 1313.5,2506.6 1317.9,2509.5 C1322.3,2512.4 1326.6,2516.3 1331.0,2521.9 C1335.4,2527.5 1339.7,2535.5 1344.1,2542.9 C1348.5,2550.3 1352.8,2558.6 1357.2,2566.4 C1361.6,2574.2 1365.9,2582.6 1370.2,2590.0 C1374.5,2597.4 1378.9,2605.3 1383.3,2611.0 C1387.7,2616.7 1392.0,2620.1 1396.4,2624.0 C1400.8,2627.9 1405.6,2631.8 1409.5,2634.5 C1413.4,2637.2 1413.2,2637.3 1420.0,2640.4 C1426.8,2643.5 1440.0,2649.2 1450.0,2653.0 C1460.0,2656.8 1470.0,2660.1 1480.0,2663.3 C1490.0,2666.5 1500.0,2669.7 1510.0,2672.3 C1520.0,2674.9 1528.3,2677.1 1540.0,2679.0 C1551.7,2680.9 1566.7,2682.8 1580.0,2684.0 C1593.3,2685.2 1606.7,2685.2 1620.0,2686.0 C1633.3,2686.8 1646.7,2687.8 1660.0,2688.6 C1673.3,2689.4 1686.7,2690.3 1700.0,2690.7 C1713.3,2691.0 1726.7,2691.2 1740.0,2690.7 C1753.3,2690.2 1766.7,2688.8 1780.0,2687.7 C1793.3,2686.6 1810.0,2684.7 1820.0,2684.0 C1830.0,2683.3 1831.7,2683.5 1840.0,2683.8 C1848.3,2684.1 1860.0,2684.3 1870.0,2686.0 C1880.0,2687.7 1890.0,2691.7 1900.0,2693.7 C1910.0,2695.7 1921.7,2697.2 1930.0,2698.0 C1938.3,2698.8 1943.3,2699.0 1950.0,2698.7 C1956.7,2698.4 1961.7,2697.3 1970.0,2696.0 C1978.3,2694.7 1990.0,2692.7 2000.0,2691.0 C2010.0,2689.3 2020.0,2687.8 2030.0,2686.0 C2040.0,2684.2 2050.0,2681.4 2060.0,2680.0 C2070.0,2678.6 2080.0,2678.2 2090.0,2677.5 C2100.0,2676.8 2110.0,2676.1 2120.0,2676.0 C2130.0,2675.9 2140.0,2677.0 2150.0,2677.0 C2160.0,2677.0 2170.0,2676.2 2180.0,2676.0 C2190.0,2675.8 2197.3,2675.8 2210.0,2676.0 C2222.7,2676.2 2248.3,2676.8 2256.0,2677.0" fill="none" stroke="#4420b0" stroke-width="8" stroke-linejoin="round" stroke-linecap="round"/></g>
<rect x="265" y="44" width="1989" height="2701.5" fill="none" stroke="#000" stroke-width="8" stroke-linejoin="miter"/>
<line x1="265" y1="944.7" x2="2254" y2="944.7" stroke="#000" stroke-width="7.6"/>
<line x1="265" y1="1845" x2="2254" y2="1845" stroke="#000" stroke-width="7.6"/>
<path d="M329.0,940.9V902.9 M329.0,1841.2V1803.2 M329.0,2749.3V2785.3 M435.9,940.9V921.9 M435.9,1841.2V1822.2 M435.9,2749.3V2768.3 M542.8,940.9V902.9 M542.8,1841.2V1803.2 M542.8,2749.3V2785.3 M649.7,940.9V921.9 M649.7,1841.2V1822.2 M649.7,2749.3V2768.3 M756.7,940.9V902.9 M756.7,1841.2V1803.2 M756.7,2749.3V2785.3 M863.6,940.9V921.9 M863.6,1841.2V1822.2 M863.6,2749.3V2768.3 M970.5,940.9V902.9 M970.5,1841.2V1803.2 M970.5,2749.3V2785.3 M1077.4,940.9V921.9 M1077.4,1841.2V1822.2 M1077.4,2749.3V2768.3 M1184.3,940.9V902.9 M1184.3,1841.2V1803.2 M1184.3,2749.3V2785.3 M1291.2,940.9V921.9 M1291.2,1841.2V1822.2 M1291.2,2749.3V2768.3 M1398.2,940.9V902.9 M1398.2,1841.2V1803.2 M1398.2,2749.3V2785.3 M1505.1,940.9V921.9 M1505.1,1841.2V1822.2 M1505.1,2749.3V2768.3 M1612.0,940.9V902.9 M1612.0,1841.2V1803.2 M1612.0,2749.3V2785.3 M1718.9,940.9V921.9 M1718.9,1841.2V1822.2 M1718.9,2749.3V2768.3 M1825.8,940.9V902.9 M1825.8,1841.2V1803.2 M1825.8,2749.3V2785.3 M1932.7,940.9V921.9 M1932.7,1841.2V1822.2 M1932.7,2749.3V2768.3 M2039.6,940.9V902.9 M2039.6,1841.2V1803.2 M2039.6,2749.3V2785.3 M2146.6,940.9V921.9 M2146.6,1841.2V1822.2 M2146.6,2749.3V2768.3 M2253.5,940.9V902.9 M2253.5,1841.2V1803.2 M2253.5,2749.3V2785.3" stroke="#000" stroke-width="7" fill="none"/>
<path d="M241.5,90.7H262 M225,201.4H262 M241.5,312.1H262 M225,422.8H262 M241.5,533.5H262 M225,644.2H262 M241.5,754.9H262 M225,865.6H262 M241.5,1018.4H262 M225,1131.0H262 M241.5,1243.6H262 M225,1356.2H262 M241.5,1468.8H262 M225,1581.4H262 M241.5,1694.0H262 M225,1806.6H262 M225,1897.0H262 M241.5,2011.9H262 M225,2126.9H262 M241.5,2241.8H262 M225,2356.7H262 M241.5,2471.7H262 M225,2586.6H262 M241.5,2701.5H262" stroke="#000" stroke-width="7.8" fill="none"/>
<line x1="329" y1="53.8" x2="329" y2="2741" stroke="#000" stroke-width="5.2" stroke-dasharray="14.5 6"/>
<line x1="549.7" y1="48" x2="549.7" y2="2741" stroke="#000" stroke-width="5.3" stroke-dasharray="14 7"/>
<line x1="830" y1="48" x2="830" y2="2741" stroke="#000" stroke-width="3.6" stroke-dasharray="14 7.2"/>
<line x1="931.5" y1="48" x2="931.5" y2="2741" stroke="#000" stroke-width="4.6" stroke-dasharray="14 7"/>
<line x1="1051.8" y1="47.7" x2="1051.8" y2="2741" stroke="#000" stroke-width="5.6" stroke-dasharray="14 7"/>
<line x1="1351.8" y1="56.5" x2="1351.8" y2="2741" stroke="#000" stroke-width="5.4" stroke-dasharray="14 7"/>
<line x1="1384.7" y1="53.7" x2="1384.7" y2="2741" stroke="#000" stroke-width="4.8" stroke-dasharray="14 6.8"/>
</svg>
</body></html>
